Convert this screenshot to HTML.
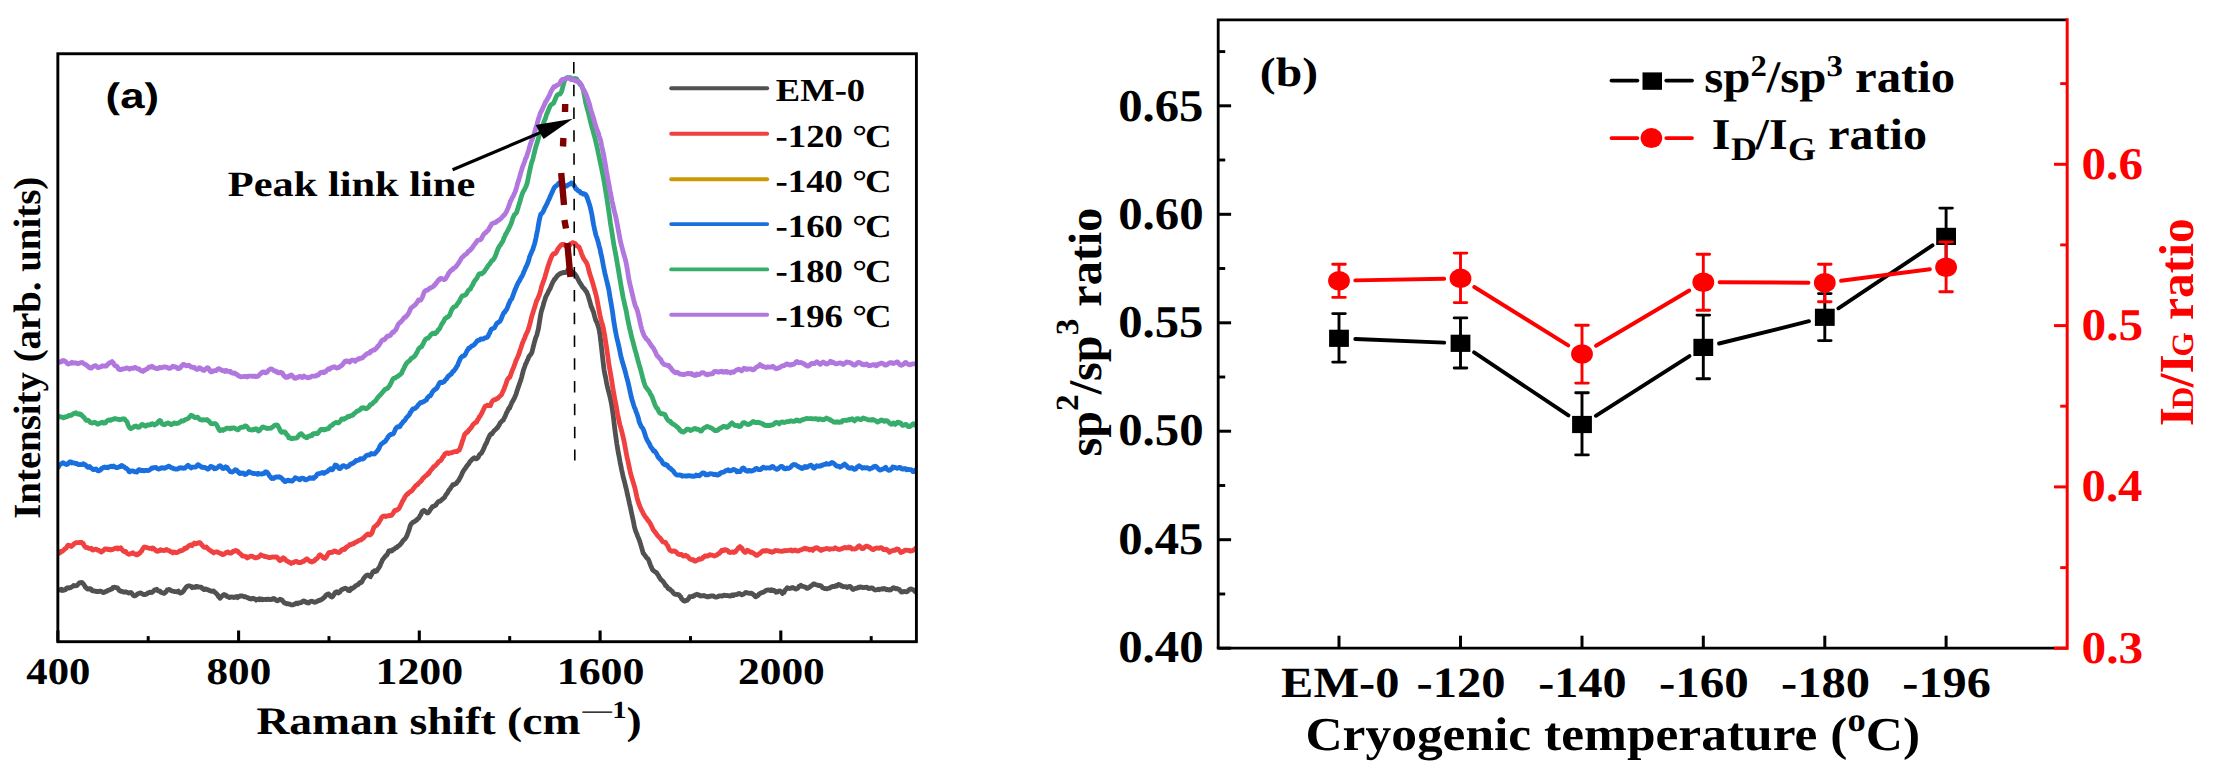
<!DOCTYPE html>
<html lang="en"><head><meta charset="utf-8"><title>Raman spectra and ratios</title>
<style>html,body{margin:0;padding:0;background:#fff}svg{display:block}text{white-space:pre;text-rendering:geometricPrecision}</style>
</head><body>
<svg width="2214" height="773" viewBox="0 0 2214 773">
<rect width="2214" height="773" fill="#fff"/>
<clipPath id="ca"><rect x="57.85" y="53.75" width="858.55" height="587.95"/></clipPath>
<g clip-path="url(#ca)" fill="none" stroke-width="4.8" stroke-linejoin="round" stroke-linecap="round">
<path d="M57.6,590.6 L58.4,589.9 L59.2,589.8 L60.0,589.6 L60.8,590.1 L61.6,589.4 L62.4,590.5 L63.2,589.9 L64.0,590.1 L64.8,589.6 L65.6,589.6 L66.4,588.1 L67.2,588.0 L68.0,587.7 L68.8,588.1 L69.6,587.6 L70.4,587.7 L71.2,587.2 L72.0,586.8 L72.8,586.3 L73.6,585.5 L74.4,585.9 L75.2,585.8 L76.0,585.7 L76.8,585.6 L77.6,584.7 L78.4,584.0 L79.2,583.0 L80.0,582.6 L80.8,582.6 L81.6,582.4 L82.4,582.9 L83.2,583.7 L84.0,584.8 L84.8,586.1 L85.6,587.4 L86.4,587.9 L87.2,588.7 L88.0,589.2 L88.8,588.9 L89.6,588.6 L90.4,588.6 L91.2,589.2 L92.0,590.6 L92.8,590.8 L93.6,590.8 L94.4,590.9 L95.2,591.3 L96.0,591.1 L96.8,591.5 L97.6,591.6 L98.4,591.5 L99.2,591.2 L100.0,591.2 L100.8,591.2 L101.6,591.5 L102.4,592.1 L103.2,592.5 L104.0,592.4 L104.8,592.2 L105.6,591.3 L106.4,591.4 L107.2,590.9 L108.0,590.4 L108.8,590.2 L109.6,589.7 L110.4,589.6 L111.2,589.2 L112.0,589.0 L112.8,587.6 L113.6,587.3 L114.4,587.2 L115.2,587.3 L116.0,587.6 L116.8,587.9 L117.6,587.9 L118.4,589.2 L119.2,590.4 L120.0,590.9 L120.8,591.3 L121.6,591.2 L122.4,591.5 L123.2,591.9 L124.0,592.1 L124.8,592.0 L125.6,591.9 L126.4,591.8 L127.2,592.4 L128.0,592.6 L128.8,593.0 L129.6,592.8 L130.4,592.5 L131.2,592.7 L132.0,593.5 L132.8,594.8 L133.6,595.6 L134.4,595.9 L135.2,595.8 L136.0,595.2 L136.8,594.8 L137.6,593.8 L138.4,593.7 L139.2,593.1 L140.0,593.1 L140.8,592.9 L141.6,593.5 L142.4,594.1 L143.2,594.1 L144.0,594.6 L144.8,594.7 L145.6,594.2 L146.4,594.2 L147.2,593.8 L148.0,592.8 L148.8,592.7 L149.6,592.2 L150.4,592.6 L151.2,592.1 L152.0,592.4 L152.8,591.7 L153.6,590.9 L154.4,590.0 L155.2,590.1 L156.0,590.1 L156.8,589.3 L157.6,590.4 L158.4,590.9 L159.2,591.0 L160.0,591.2 L160.8,592.3 L161.6,592.6 L162.4,592.9 L163.2,592.9 L164.0,593.4 L164.8,593.1 L165.6,592.1 L166.4,591.4 L167.2,590.0 L168.0,589.9 L168.8,589.5 L169.6,589.6 L170.4,590.1 L171.2,590.7 L172.0,591.0 L172.8,591.2 L173.6,591.3 L174.4,591.4 L175.2,591.7 L176.0,591.7 L176.8,591.8 L177.6,591.5 L178.4,591.1 L179.2,592.3 L180.0,593.1 L180.8,593.0 L181.6,592.7 L182.4,592.2 L183.2,591.3 L184.0,590.4 L184.8,589.0 L185.6,588.0 L186.4,586.9 L187.2,586.5 L188.0,585.9 L188.8,585.9 L189.6,585.8 L190.4,586.3 L191.2,586.6 L192.0,587.6 L192.8,586.9 L193.6,587.2 L194.4,587.4 L195.2,587.4 L196.0,586.4 L196.8,586.3 L197.6,586.5 L198.4,587.2 L199.2,587.0 L200.0,587.2 L200.8,587.1 L201.6,587.4 L202.4,588.6 L203.2,589.2 L204.0,589.6 L204.8,589.1 L205.6,588.9 L206.4,589.4 L207.2,589.6 L208.0,589.9 L208.8,590.1 L209.6,590.6 L210.4,590.6 L211.2,591.3 L212.0,591.2 L212.8,591.3 L213.6,591.0 L214.4,592.0 L215.2,592.4 L216.0,593.2 L216.8,594.1 L217.6,594.8 L218.4,596.5 L219.2,597.2 L220.0,598.3 L220.8,597.4 L221.6,596.6 L222.4,595.7 L223.2,595.0 L224.0,594.5 L224.8,595.3 L225.6,595.1 L226.4,595.4 L227.2,596.7 L228.0,596.8 L228.8,597.1 L229.6,597.6 L230.4,597.3 L231.2,596.8 L232.0,597.2 L232.8,597.0 L233.6,597.5 L234.4,597.2 L235.2,597.3 L236.0,596.8 L236.8,596.5 L237.6,597.6 L238.4,596.8 L239.2,596.6 L240.0,596.0 L240.8,595.9 L241.6,596.0 L242.4,596.0 L243.2,596.3 L244.0,596.8 L244.8,596.6 L245.6,596.7 L246.4,597.2 L247.2,597.6 L248.0,597.6 L248.8,598.5 L249.6,598.5 L250.4,598.9 L251.2,599.0 L252.0,598.4 L252.8,598.3 L253.6,598.6 L254.4,598.9 L255.2,599.1 L256.0,600.1 L256.8,599.5 L257.6,599.6 L258.4,599.5 L259.2,598.7 L260.0,599.8 L260.8,599.3 L261.6,599.0 L262.4,599.8 L263.2,599.5 L264.0,599.5 L264.8,599.3 L265.6,599.6 L266.4,599.2 L267.2,599.6 L268.0,599.1 L268.8,599.2 L269.6,599.5 L270.4,599.5 L271.2,599.7 L272.0,599.5 L272.8,598.7 L273.6,598.5 L274.4,598.7 L275.2,599.2 L276.0,600.3 L276.8,600.6 L277.6,600.8 L278.4,600.1 L279.2,600.0 L280.0,599.2 L280.8,599.7 L281.6,599.6 L282.4,600.4 L283.2,601.4 L284.0,602.5 L284.8,602.9 L285.6,603.4 L286.4,603.6 L287.2,603.9 L288.0,603.7 L288.8,604.1 L289.6,604.2 L290.4,604.4 L291.2,604.8 L292.0,604.8 L292.8,604.9 L293.6,604.6 L294.4,604.3 L295.2,603.9 L296.0,603.1 L296.8,603.4 L297.6,603.7 L298.4,602.8 L299.2,603.0 L300.0,602.8 L300.8,602.6 L301.6,602.5 L302.4,601.5 L303.2,601.0 L304.0,601.3 L304.8,601.2 L305.6,602.1 L306.4,602.3 L307.2,602.9 L308.0,602.3 L308.8,602.9 L309.6,602.0 L310.4,601.6 L311.2,601.3 L312.0,601.2 L312.8,601.5 L313.6,602.1 L314.4,602.1 L315.2,602.3 L316.0,601.7 L316.8,601.6 L317.6,601.3 L318.4,600.5 L319.2,600.7 L320.0,600.0 L320.8,600.0 L321.6,599.4 L322.4,599.2 L323.2,598.1 L324.0,597.6 L324.8,597.0 L325.6,595.7 L326.4,594.8 L327.2,594.5 L328.0,594.0 L328.8,594.0 L329.6,594.9 L330.4,596.3 L331.2,596.7 L332.0,597.1 L332.8,596.3 L333.6,595.1 L334.4,593.7 L335.2,592.5 L336.0,592.1 L336.8,591.8 L337.6,592.7 L338.4,593.0 L339.2,592.4 L340.0,591.8 L340.8,590.4 L341.6,589.7 L342.4,589.5 L343.2,589.1 L344.0,588.7 L344.8,588.3 L345.6,588.2 L346.4,588.8 L347.2,588.8 L348.0,590.2 L348.8,590.5 L349.6,590.6 L350.4,589.9 L351.2,588.3 L352.0,588.6 L352.8,588.1 L353.6,587.7 L354.4,586.9 L355.2,586.4 L356.0,585.3 L356.8,585.4 L357.6,584.6 L358.4,584.5 L359.2,583.2 L360.0,582.4 L360.8,582.6 L361.6,582.1 L362.4,580.9 L363.2,579.1 L364.0,578.0 L364.8,577.1 L365.6,576.1 L366.4,575.5 L367.2,575.1 L368.0,575.0 L368.8,575.8 L369.6,576.1 L370.4,576.8 L371.2,575.2 L372.0,573.8 L372.8,572.0 L373.6,571.6 L374.4,570.8 L375.2,571.6 L376.0,571.1 L376.8,571.1 L377.6,569.3 L378.4,568.6 L379.2,567.3 L380.0,565.9 L380.8,563.7 L381.6,562.2 L382.4,560.1 L383.2,559.1 L384.0,558.1 L384.8,557.0 L385.6,555.8 L386.4,555.5 L387.2,554.5 L388.0,552.8 L388.8,551.0 L389.6,550.6 L390.4,550.7 L391.2,551.2 L392.0,550.8 L392.8,549.6 L393.6,549.4 L394.4,549.2 L395.2,548.1 L396.0,547.5 L396.8,547.7 L397.6,546.6 L398.4,545.9 L399.2,545.6 L400.0,544.8 L400.8,543.7 L401.6,542.9 L402.4,541.6 L403.2,540.5 L404.0,539.6 L404.8,539.2 L405.6,538.0 L406.4,536.7 L407.2,535.0 L408.0,532.8 L408.8,530.7 L409.6,528.0 L410.4,525.3 L411.2,523.8 L412.0,523.3 L412.8,522.3 L413.6,522.1 L414.4,521.4 L415.2,521.3 L416.0,520.3 L416.8,520.1 L417.6,518.8 L418.4,518.4 L419.2,517.4 L420.0,515.8 L420.8,514.8 L421.6,512.7 L422.4,511.2 L423.2,510.7 L424.0,510.3 L424.8,510.9 L425.6,511.8 L426.4,512.2 L427.2,513.0 L428.0,512.8 L428.8,512.0 L429.6,510.8 L430.4,509.5 L431.2,508.5 L432.0,507.3 L432.8,506.3 L433.6,506.3 L434.4,505.9 L435.2,505.4 L436.0,505.0 L436.8,503.4 L437.6,502.4 L438.4,501.5 L439.2,501.3 L440.0,501.4 L440.8,500.5 L441.6,500.1 L442.4,499.1 L443.2,498.5 L444.0,497.9 L444.8,496.9 L445.6,495.3 L446.4,494.2 L447.2,493.2 L448.0,491.9 L448.8,490.3 L449.6,489.4 L450.4,488.4 L451.2,487.0 L452.0,486.1 L452.8,484.7 L453.6,484.3 L454.4,484.6 L455.2,483.8 L456.0,483.6 L456.8,482.9 L457.6,481.4 L458.4,480.8 L459.2,479.3 L460.0,478.0 L460.8,476.4 L461.6,474.7 L462.4,472.8 L463.2,471.5 L464.0,469.9 L464.8,468.9 L465.6,467.9 L466.4,466.6 L467.2,465.7 L468.0,464.4 L468.8,463.8 L469.6,462.2 L470.4,461.1 L471.2,460.5 L472.0,459.5 L472.8,458.8 L473.6,458.3 L474.4,457.7 L475.2,458.2 L476.0,458.9 L476.8,458.7 L477.6,458.0 L478.4,457.0 L479.2,455.1 L480.0,454.3 L480.8,453.6 L481.6,452.9 L482.4,451.3 L483.2,449.8 L484.0,448.1 L484.8,446.0 L485.6,444.3 L486.4,443.1 L487.2,441.1 L488.0,438.9 L488.8,437.5 L489.6,435.6 L490.4,434.5 L491.2,433.7 L492.0,434.0 L492.8,432.4 L493.6,431.4 L494.4,430.5 L495.2,429.8 L496.0,429.2 L496.8,428.1 L497.6,427.6 L498.4,426.0 L499.2,425.1 L500.0,423.1 L500.8,422.2 L501.6,421.6 L502.4,420.6 L503.2,420.2 L504.0,418.4 L504.8,417.0 L505.6,415.2 L506.4,413.1 L507.2,411.8 L508.0,410.1 L508.8,408.2 L509.6,408.3 L510.4,406.0 L511.2,404.2 L512.0,402.2 L512.8,401.1 L513.6,399.5 L514.4,398.1 L515.2,396.1 L516.0,394.4 L516.8,391.6 L517.6,389.2 L518.4,386.9 L519.2,384.6 L520.0,382.3 L520.8,380.1 L521.6,377.3 L522.4,374.1 L523.2,371.1 L524.0,368.6 L524.8,366.5 L525.6,364.0 L526.4,362.7 L527.2,360.5 L528.0,359.1 L528.8,356.8 L529.6,355.8 L530.4,354.8 L531.2,353.8 L532.0,352.0 L532.8,348.7 L533.6,345.7 L534.4,342.3 L535.2,339.5 L536.0,336.9 L536.8,335.2 L537.6,332.0 L538.4,328.8 L539.2,323.7 L540.0,318.6 L540.8,313.8 L541.6,310.5 L542.4,308.1 L543.2,305.4 L544.0,302.2 L544.8,300.0 L545.6,297.3 L546.4,295.6 L547.2,294.2 L548.0,292.6 L548.8,290.8 L549.6,289.4 L550.4,288.1 L551.2,285.7 L552.0,284.2 L552.8,282.2 L553.6,281.0 L554.4,279.2 L555.2,278.9 L556.0,277.5 L556.8,276.6 L557.6,275.5 L558.4,274.9 L559.2,274.2 L560.0,274.0 L560.8,273.2 L561.6,273.0 L562.4,273.1 L563.2,272.5 L564.0,272.4 L564.8,272.5 L565.6,272.6 L566.4,271.7 L567.2,271.0 L568.0,269.6 L568.8,269.3 L569.6,269.9 L570.4,270.6 L571.2,270.8 L572.0,271.9 L572.8,272.1 L573.6,273.4 L574.4,273.5 L575.2,274.5 L576.0,275.6 L576.8,276.9 L577.6,278.6 L578.4,280.0 L579.2,281.6 L580.0,283.0 L580.8,284.1 L581.6,285.4 L582.4,286.9 L583.2,287.7 L584.0,288.6 L584.8,289.3 L585.6,290.8 L586.4,291.5 L587.2,293.5 L588.0,295.3 L588.8,298.1 L589.6,300.7 L590.4,303.6 L591.2,306.5 L592.0,308.0 L592.8,310.5 L593.6,312.3 L594.4,315.6 L595.2,318.4 L596.0,320.9 L596.8,322.3 L597.6,324.4 L598.4,326.9 L599.2,330.0 L600.0,335.0 L600.8,341.4 L601.6,348.6 L602.4,355.8 L603.2,362.7 L604.0,369.3 L604.8,373.9 L605.6,377.4 L606.4,381.9 L607.2,385.7 L608.0,389.1 L608.8,392.2 L609.6,395.2 L610.4,398.7 L611.2,402.4 L612.0,407.2 L612.8,412.6 L613.6,418.8 L614.4,425.6 L615.2,432.1 L616.0,437.8 L616.8,443.6 L617.6,448.5 L618.4,453.3 L619.2,457.1 L620.0,461.7 L620.8,465.5 L621.6,469.7 L622.4,473.1 L623.2,477.1 L624.0,479.9 L624.8,482.9 L625.6,486.5 L626.4,489.4 L627.2,493.4 L628.0,496.8 L628.8,500.3 L629.6,504.1 L630.4,507.2 L631.2,511.2 L632.0,514.9 L632.8,518.7 L633.6,522.3 L634.4,526.9 L635.2,529.6 L636.0,532.1 L636.8,533.8 L637.6,536.1 L638.4,537.9 L639.2,539.9 L640.0,542.1 L640.8,544.9 L641.6,547.7 L642.4,550.3 L643.2,553.2 L644.0,553.9 L644.8,555.2 L645.6,556.2 L646.4,557.5 L647.2,558.3 L648.0,558.8 L648.8,560.5 L649.6,562.6 L650.4,565.0 L651.2,566.6 L652.0,568.7 L652.8,570.1 L653.6,570.6 L654.4,571.4 L655.2,571.8 L656.0,572.5 L656.8,572.9 L657.6,574.5 L658.4,575.4 L659.2,577.2 L660.0,578.1 L660.8,579.5 L661.6,580.1 L662.4,580.8 L663.2,581.7 L664.0,582.9 L664.8,584.0 L665.6,585.6 L666.4,586.0 L667.2,586.9 L668.0,588.4 L668.8,588.9 L669.6,588.8 L670.4,590.0 L671.2,590.6 L672.0,590.9 L672.8,592.3 L673.6,593.3 L674.4,594.0 L675.2,594.3 L676.0,594.2 L676.8,594.5 L677.6,594.5 L678.4,594.6 L679.2,595.1 L680.0,596.3 L680.8,596.8 L681.6,598.8 L682.4,599.6 L683.2,600.5 L684.0,601.0 L684.8,601.2 L685.6,600.4 L686.4,600.6 L687.2,600.3 L688.0,599.3 L688.8,598.4 L689.6,596.7 L690.4,596.7 L691.2,596.6 L692.0,596.5 L692.8,596.6 L693.6,595.7 L694.4,595.8 L695.2,594.8 L696.0,594.7 L696.8,594.2 L697.6,594.7 L698.4,595.1 L699.2,595.0 L700.0,595.8 L700.8,596.0 L701.6,595.9 L702.4,595.6 L703.2,595.9 L704.0,595.4 L704.8,596.0 L705.6,596.1 L706.4,596.5 L707.2,596.9 L708.0,596.4 L708.8,596.8 L709.6,596.1 L710.4,596.3 L711.2,596.0 L712.0,595.9 L712.8,595.9 L713.6,596.1 L714.4,596.6 L715.2,596.9 L716.0,597.2 L716.8,597.1 L717.6,596.8 L718.4,596.4 L719.2,595.9 L720.0,595.8 L720.8,595.9 L721.6,596.1 L722.4,596.0 L723.2,595.5 L724.0,595.2 L724.8,595.2 L725.6,595.7 L726.4,595.4 L727.2,595.6 L728.0,595.6 L728.8,595.7 L729.6,596.1 L730.4,596.0 L731.2,595.8 L732.0,594.9 L732.8,595.1 L733.6,595.5 L734.4,594.7 L735.2,594.6 L736.0,594.6 L736.8,594.5 L737.6,594.1 L738.4,593.6 L739.2,593.5 L740.0,593.9 L740.8,594.1 L741.6,594.9 L742.4,594.7 L743.2,594.3 L744.0,593.9 L744.8,593.1 L745.6,592.5 L746.4,592.6 L747.2,592.8 L748.0,592.8 L748.8,593.3 L749.6,593.4 L750.4,593.3 L751.2,593.1 L752.0,593.6 L752.8,594.1 L753.6,595.1 L754.4,595.2 L755.2,596.6 L756.0,596.8 L756.8,596.3 L757.6,595.8 L758.4,595.0 L759.2,593.9 L760.0,593.5 L760.8,593.1 L761.6,592.7 L762.4,592.6 L763.2,592.2 L764.0,592.0 L764.8,591.3 L765.6,590.8 L766.4,590.1 L767.2,590.2 L768.0,589.8 L768.8,589.8 L769.6,590.4 L770.4,590.5 L771.2,589.7 L772.0,590.5 L772.8,589.9 L773.6,590.5 L774.4,590.5 L775.2,591.0 L776.0,592.3 L776.8,592.0 L777.6,591.9 L778.4,591.2 L779.2,590.8 L780.0,590.9 L780.8,591.5 L781.6,592.2 L782.4,593.4 L783.2,592.7 L784.0,592.5 L784.8,590.6 L785.6,589.7 L786.4,588.8 L787.2,587.8 L788.0,588.1 L788.8,588.3 L789.6,588.5 L790.4,588.2 L791.2,588.1 L792.0,587.7 L792.8,587.5 L793.6,588.2 L794.4,588.1 L795.2,588.9 L796.0,589.0 L796.8,588.6 L797.6,588.3 L798.4,587.4 L799.2,586.2 L800.0,585.8 L800.8,585.3 L801.6,586.1 L802.4,586.3 L803.2,586.3 L804.0,586.8 L804.8,587.1 L805.6,587.2 L806.4,588.1 L807.2,588.3 L808.0,588.1 L808.8,587.4 L809.6,587.3 L810.4,586.3 L811.2,585.8 L812.0,585.4 L812.8,584.5 L813.6,583.8 L814.4,583.9 L815.2,584.3 L816.0,584.9 L816.8,584.8 L817.6,585.3 L818.4,585.5 L819.2,585.4 L820.0,585.7 L820.8,585.7 L821.6,586.5 L822.4,587.6 L823.2,588.0 L824.0,588.3 L824.8,588.7 L825.6,588.5 L826.4,588.8 L827.2,588.8 L828.0,588.5 L828.8,588.2 L829.6,588.1 L830.4,587.6 L831.2,587.0 L832.0,586.9 L832.8,586.4 L833.6,586.5 L834.4,586.5 L835.2,586.1 L836.0,585.5 L836.8,586.1 L837.6,585.5 L838.4,584.4 L839.2,584.6 L840.0,584.9 L840.8,585.2 L841.6,586.1 L842.4,586.3 L843.2,586.8 L844.0,586.7 L844.8,586.6 L845.6,586.7 L846.4,587.1 L847.2,587.5 L848.0,587.0 L848.8,586.5 L849.6,586.3 L850.4,586.5 L851.2,587.5 L852.0,588.6 L852.8,589.5 L853.6,589.4 L854.4,588.6 L855.2,588.6 L856.0,588.4 L856.8,588.0 L857.6,588.0 L858.4,587.2 L859.2,587.6 L860.0,587.1 L860.8,586.8 L861.6,587.2 L862.4,587.4 L863.2,587.7 L864.0,587.4 L864.8,587.5 L865.6,587.3 L866.4,587.2 L867.2,587.4 L868.0,588.2 L868.8,588.5 L869.6,588.1 L870.4,588.4 L871.2,587.8 L872.0,587.8 L872.8,588.3 L873.6,589.1 L874.4,589.7 L875.2,590.0 L876.0,589.8 L876.8,589.7 L877.6,589.5 L878.4,589.1 L879.2,589.7 L880.0,589.2 L880.8,589.1 L881.6,589.1 L882.4,588.7 L883.2,589.0 L884.0,588.4 L884.8,588.9 L885.6,588.8 L886.4,589.7 L887.2,589.3 L888.0,589.7 L888.8,590.0 L889.6,589.5 L890.4,590.0 L891.2,589.5 L892.0,588.9 L892.8,588.0 L893.6,587.7 L894.4,588.1 L895.2,588.4 L896.0,588.8 L896.8,588.4 L897.6,588.7 L898.4,589.2 L899.2,589.3 L900.0,590.4 L900.8,591.5 L901.6,592.1 L902.4,591.7 L903.2,591.9 L904.0,591.5 L904.8,591.5 L905.6,591.7 L906.4,591.9 L907.2,591.5 L908.0,590.9 L908.8,589.9 L909.6,589.3 L910.4,589.0 L911.2,588.8 L912.0,589.5 L912.8,589.7 L913.6,589.8 L914.4,591.0 L915.2,591.6 L916.0,592.1 L916.8,591.9" stroke="#515151"/>
<path d="M57.6,554.1 L58.4,553.7 L59.2,552.5 L60.0,552.8 L60.8,551.4 L61.6,551.3 L62.4,551.3 L63.2,550.4 L64.0,549.8 L64.8,549.0 L65.6,548.4 L66.4,547.8 L67.2,546.2 L68.0,545.2 L68.8,545.4 L69.6,545.4 L70.4,546.0 L71.2,546.5 L72.0,545.7 L72.8,545.2 L73.6,544.2 L74.4,543.6 L75.2,543.3 L76.0,542.6 L76.8,542.6 L77.6,542.6 L78.4,542.7 L79.2,542.6 L80.0,542.4 L80.8,542.4 L81.6,542.5 L82.4,543.6 L83.2,543.5 L84.0,545.4 L84.8,546.5 L85.6,547.4 L86.4,547.5 L87.2,547.4 L88.0,548.0 L88.8,548.4 L89.6,548.3 L90.4,548.7 L91.2,548.3 L92.0,549.7 L92.8,550.1 L93.6,549.6 L94.4,549.6 L95.2,549.3 L96.0,549.1 L96.8,549.6 L97.6,550.1 L98.4,550.1 L99.2,550.6 L100.0,551.3 L100.8,551.9 L101.6,552.1 L102.4,551.1 L103.2,550.8 L104.0,550.0 L104.8,549.0 L105.6,549.0 L106.4,549.0 L107.2,549.1 L108.0,549.5 L108.8,549.1 L109.6,549.9 L110.4,549.8 L111.2,549.5 L112.0,549.8 L112.8,549.5 L113.6,548.8 L114.4,548.8 L115.2,548.2 L116.0,548.1 L116.8,548.0 L117.6,548.9 L118.4,548.0 L119.2,548.5 L120.0,548.5 L120.8,547.9 L121.6,549.0 L122.4,549.9 L123.2,550.9 L124.0,551.5 L124.8,551.3 L125.6,551.4 L126.4,552.6 L127.2,553.4 L128.0,553.8 L128.8,554.3 L129.6,554.2 L130.4,553.8 L131.2,553.3 L132.0,553.4 L132.8,552.7 L133.6,553.7 L134.4,553.9 L135.2,554.1 L136.0,554.7 L136.8,554.0 L137.6,554.8 L138.4,554.3 L139.2,553.4 L140.0,552.9 L140.8,551.6 L141.6,551.0 L142.4,549.6 L143.2,548.2 L144.0,547.2 L144.8,547.0 L145.6,547.2 L146.4,547.5 L147.2,547.7 L148.0,548.0 L148.8,548.2 L149.6,548.3 L150.4,548.3 L151.2,548.2 L152.0,548.9 L152.8,547.9 L153.6,548.3 L154.4,549.2 L155.2,549.7 L156.0,550.7 L156.8,551.2 L157.6,551.4 L158.4,551.0 L159.2,550.2 L160.0,550.5 L160.8,549.7 L161.6,550.3 L162.4,550.4 L163.2,550.3 L164.0,550.6 L164.8,550.1 L165.6,550.2 L166.4,549.4 L167.2,550.1 L168.0,550.3 L168.8,550.6 L169.6,550.8 L170.4,551.8 L171.2,551.9 L172.0,551.8 L172.8,552.9 L173.6,552.1 L174.4,552.4 L175.2,552.2 L176.0,552.7 L176.8,552.7 L177.6,552.3 L178.4,551.8 L179.2,551.5 L180.0,550.6 L180.8,550.9 L181.6,550.6 L182.4,550.4 L183.2,549.6 L184.0,549.4 L184.8,548.2 L185.6,547.8 L186.4,548.2 L187.2,547.4 L188.0,546.4 L188.8,545.8 L189.6,545.3 L190.4,544.9 L191.2,544.9 L192.0,545.6 L192.8,544.3 L193.6,544.1 L194.4,543.1 L195.2,543.8 L196.0,543.9 L196.8,543.5 L197.6,543.0 L198.4,543.1 L199.2,542.7 L200.0,542.7 L200.8,543.6 L201.6,544.7 L202.4,545.6 L203.2,546.4 L204.0,547.1 L204.8,547.3 L205.6,547.2 L206.4,547.0 L207.2,547.9 L208.0,548.8 L208.8,549.5 L209.6,550.0 L210.4,550.6 L211.2,550.9 L212.0,551.8 L212.8,552.1 L213.6,552.9 L214.4,552.3 L215.2,552.1 L216.0,552.1 L216.8,551.9 L217.6,552.0 L218.4,552.5 L219.2,552.8 L220.0,553.4 L220.8,553.6 L221.6,553.7 L222.4,554.6 L223.2,554.7 L224.0,554.1 L224.8,553.9 L225.6,552.8 L226.4,552.6 L227.2,552.1 L228.0,551.9 L228.8,552.5 L229.6,553.2 L230.4,553.0 L231.2,553.0 L232.0,552.6 L232.8,551.6 L233.6,551.1 L234.4,551.3 L235.2,550.6 L236.0,550.5 L236.8,551.1 L237.6,551.2 L238.4,552.4 L239.2,552.8 L240.0,553.6 L240.8,554.2 L241.6,554.9 L242.4,555.9 L243.2,556.2 L244.0,556.2 L244.8,556.2 L245.6,556.7 L246.4,556.7 L247.2,558.0 L248.0,557.1 L248.8,557.3 L249.6,556.7 L250.4,556.1 L251.2,556.2 L252.0,556.1 L252.8,556.5 L253.6,557.2 L254.4,557.4 L255.2,557.8 L256.0,557.9 L256.8,557.5 L257.6,557.3 L258.4,557.1 L259.2,556.4 L260.0,555.8 L260.8,554.8 L261.6,555.3 L262.4,555.6 L263.2,555.8 L264.0,556.1 L264.8,556.7 L265.6,556.4 L266.4,556.8 L267.2,556.8 L268.0,557.2 L268.8,557.6 L269.6,557.5 L270.4,557.6 L271.2,557.2 L272.0,557.2 L272.8,556.9 L273.6,557.0 L274.4,557.2 L275.2,556.9 L276.0,556.9 L276.8,557.0 L277.6,557.7 L278.4,559.1 L279.2,560.2 L280.0,560.6 L280.8,560.2 L281.6,560.0 L282.4,558.4 L283.2,557.7 L284.0,558.3 L284.8,558.8 L285.6,559.8 L286.4,560.9 L287.2,561.1 L288.0,561.4 L288.8,562.1 L289.6,562.4 L290.4,562.4 L291.2,563.4 L292.0,562.8 L292.8,562.7 L293.6,562.6 L294.4,561.8 L295.2,561.6 L296.0,561.5 L296.8,561.5 L297.6,562.2 L298.4,562.5 L299.2,562.4 L300.0,562.5 L300.8,562.5 L301.6,562.1 L302.4,561.5 L303.2,561.5 L304.0,561.2 L304.8,560.2 L305.6,559.9 L306.4,558.8 L307.2,558.8 L308.0,559.9 L308.8,560.3 L309.6,561.0 L310.4,561.6 L311.2,561.7 L312.0,562.0 L312.8,561.3 L313.6,561.0 L314.4,561.1 L315.2,559.8 L316.0,558.8 L316.8,558.8 L317.6,557.8 L318.4,556.8 L319.2,555.4 L320.0,554.7 L320.8,555.5 L321.6,556.1 L322.4,556.4 L323.2,557.8 L324.0,558.0 L324.8,558.5 L325.6,557.7 L326.4,557.0 L327.2,555.4 L328.0,554.0 L328.8,552.8 L329.6,552.3 L330.4,552.4 L331.2,552.6 L332.0,552.4 L332.8,552.2 L333.6,551.3 L334.4,550.8 L335.2,551.2 L336.0,551.3 L336.8,552.1 L337.6,552.2 L338.4,552.4 L339.2,552.5 L340.0,551.7 L340.8,551.3 L341.6,549.9 L342.4,549.3 L343.2,549.5 L344.0,548.8 L344.8,549.4 L345.6,548.3 L346.4,547.1 L347.2,546.8 L348.0,546.2 L348.8,545.7 L349.6,544.7 L350.4,544.5 L351.2,544.5 L352.0,544.1 L352.8,543.8 L353.6,543.8 L354.4,542.9 L355.2,542.7 L356.0,542.0 L356.8,541.9 L357.6,541.3 L358.4,540.7 L359.2,540.3 L360.0,540.2 L360.8,540.2 L361.6,539.3 L362.4,538.6 L363.2,538.4 L364.0,537.6 L364.8,536.4 L365.6,535.8 L366.4,535.3 L367.2,534.3 L368.0,533.9 L368.8,534.4 L369.6,535.0 L370.4,534.7 L371.2,534.0 L372.0,532.7 L372.8,530.4 L373.6,528.2 L374.4,526.7 L375.2,526.2 L376.0,525.6 L376.8,525.3 L377.6,523.9 L378.4,523.4 L379.2,521.8 L380.0,520.3 L380.8,519.3 L381.6,517.4 L382.4,516.7 L383.2,516.1 L384.0,516.2 L384.8,515.9 L385.6,516.5 L386.4,516.1 L387.2,516.2 L388.0,515.6 L388.8,515.8 L389.6,515.4 L390.4,515.7 L391.2,515.5 L392.0,514.7 L392.8,513.7 L393.6,512.5 L394.4,510.9 L395.2,510.1 L396.0,510.2 L396.8,510.3 L397.6,509.5 L398.4,509.1 L399.2,508.3 L400.0,506.6 L400.8,504.9 L401.6,503.3 L402.4,501.5 L403.2,500.1 L404.0,498.9 L404.8,497.3 L405.6,495.9 L406.4,494.9 L407.2,494.0 L408.0,493.9 L408.8,492.7 L409.6,492.2 L410.4,491.8 L411.2,491.0 L412.0,490.7 L412.8,489.6 L413.6,488.3 L414.4,487.6 L415.2,486.2 L416.0,485.5 L416.8,484.9 L417.6,484.8 L418.4,483.4 L419.2,482.7 L420.0,482.1 L420.8,481.3 L421.6,480.4 L422.4,479.1 L423.2,478.1 L424.0,477.4 L424.8,476.5 L425.6,476.0 L426.4,475.2 L427.2,474.9 L428.0,473.5 L428.8,473.5 L429.6,472.0 L430.4,470.9 L431.2,469.7 L432.0,469.0 L432.8,468.0 L433.6,466.7 L434.4,466.5 L435.2,465.8 L436.0,465.0 L436.8,464.1 L437.6,463.3 L438.4,461.9 L439.2,461.2 L440.0,461.2 L440.8,460.3 L441.6,459.4 L442.4,457.7 L443.2,456.6 L444.0,455.9 L444.8,453.9 L445.6,453.6 L446.4,453.0 L447.2,453.1 L448.0,452.9 L448.8,453.6 L449.6,452.8 L450.4,452.8 L451.2,452.7 L452.0,452.8 L452.8,452.2 L453.6,452.0 L454.4,451.6 L455.2,451.6 L456.0,451.5 L456.8,451.6 L457.6,451.1 L458.4,450.3 L459.2,450.2 L460.0,448.4 L460.8,446.1 L461.6,443.9 L462.4,441.0 L463.2,439.2 L464.0,436.3 L464.8,434.2 L465.6,433.6 L466.4,432.5 L467.2,432.4 L468.0,431.4 L468.8,430.1 L469.6,429.6 L470.4,428.6 L471.2,427.6 L472.0,426.4 L472.8,424.8 L473.6,424.3 L474.4,423.3 L475.2,422.7 L476.0,422.5 L476.8,421.7 L477.6,419.8 L478.4,419.0 L479.2,416.8 L480.0,416.4 L480.8,414.8 L481.6,413.5 L482.4,411.7 L483.2,410.1 L484.0,408.4 L484.8,406.8 L485.6,405.9 L486.4,405.9 L487.2,405.1 L488.0,405.6 L488.8,405.7 L489.6,405.5 L490.4,405.6 L491.2,403.4 L492.0,401.8 L492.8,400.7 L493.6,400.1 L494.4,399.6 L495.2,399.8 L496.0,399.2 L496.8,398.5 L497.6,398.5 L498.4,397.8 L499.2,396.8 L500.0,396.2 L500.8,395.3 L501.6,394.7 L502.4,392.7 L503.2,390.8 L504.0,389.4 L504.8,386.8 L505.6,385.1 L506.4,382.6 L507.2,380.1 L508.0,378.7 L508.8,377.8 L509.6,377.5 L510.4,375.7 L511.2,373.3 L512.0,371.1 L512.8,369.3 L513.6,367.4 L514.4,365.1 L515.2,363.1 L516.0,360.6 L516.8,358.9 L517.6,357.1 L518.4,355.2 L519.2,353.2 L520.0,350.5 L520.8,348.3 L521.6,345.7 L522.4,343.3 L523.2,341.4 L524.0,339.3 L524.8,338.0 L525.6,335.3 L526.4,333.8 L527.2,332.1 L528.0,330.1 L528.8,327.9 L529.6,324.9 L530.4,321.8 L531.2,318.5 L532.0,315.7 L532.8,313.1 L533.6,310.5 L534.4,308.1 L535.2,305.6 L536.0,302.9 L536.8,300.3 L537.6,299.0 L538.4,297.1 L539.2,295.2 L540.0,292.6 L540.8,289.8 L541.6,286.4 L542.4,284.2 L543.2,281.9 L544.0,279.8 L544.8,277.4 L545.6,274.6 L546.4,271.9 L547.2,268.9 L548.0,266.4 L548.8,264.1 L549.6,261.7 L550.4,259.6 L551.2,257.6 L552.0,255.7 L552.8,254.5 L553.6,253.6 L554.4,253.8 L555.2,253.6 L556.0,252.5 L556.8,251.3 L557.6,249.5 L558.4,248.2 L559.2,247.3 L560.0,246.2 L560.8,245.2 L561.6,244.6 L562.4,244.4 L563.2,244.6 L564.0,244.4 L564.8,245.3 L565.6,245.9 L566.4,246.3 L567.2,246.2 L568.0,246.9 L568.8,245.9 L569.6,245.4 L570.4,243.8 L571.2,243.5 L572.0,243.1 L572.8,242.6 L573.6,242.9 L574.4,243.5 L575.2,243.4 L576.0,244.4 L576.8,246.0 L577.6,246.2 L578.4,246.5 L579.2,247.3 L580.0,249.4 L580.8,251.3 L581.6,254.0 L582.4,255.7 L583.2,257.8 L584.0,259.2 L584.8,260.2 L585.6,261.4 L586.4,262.6 L587.2,264.2 L588.0,267.0 L588.8,270.1 L589.6,273.3 L590.4,275.7 L591.2,278.0 L592.0,280.7 L592.8,283.3 L593.6,286.1 L594.4,289.0 L595.2,291.9 L596.0,294.8 L596.8,298.3 L597.6,302.7 L598.4,307.0 L599.2,311.3 L600.0,315.5 L600.8,318.9 L601.6,321.9 L602.4,324.3 L603.2,327.3 L604.0,331.8 L604.8,336.0 L605.6,341.6 L606.4,346.5 L607.2,352.2 L608.0,357.5 L608.8,363.8 L609.6,368.2 L610.4,372.9 L611.2,377.5 L612.0,382.4 L612.8,387.6 L613.6,392.4 L614.4,396.9 L615.2,401.4 L616.0,404.9 L616.8,409.7 L617.6,414.2 L618.4,417.7 L619.2,422.1 L620.0,425.1 L620.8,427.8 L621.6,430.8 L622.4,434.0 L623.2,437.4 L624.0,441.0 L624.8,445.1 L625.6,449.6 L626.4,453.9 L627.2,458.0 L628.0,461.3 L628.8,465.4 L629.6,468.9 L630.4,472.9 L631.2,475.7 L632.0,478.4 L632.8,480.9 L633.6,483.6 L634.4,486.3 L635.2,489.2 L636.0,493.0 L636.8,496.6 L637.6,499.8 L638.4,502.4 L639.2,504.6 L640.0,506.7 L640.8,508.5 L641.6,510.2 L642.4,511.6 L643.2,513.5 L644.0,514.6 L644.8,516.3 L645.6,517.2 L646.4,518.0 L647.2,519.4 L648.0,520.5 L648.8,521.1 L649.6,522.6 L650.4,523.7 L651.2,525.6 L652.0,526.9 L652.8,528.8 L653.6,530.3 L654.4,531.1 L655.2,532.3 L656.0,533.3 L656.8,534.6 L657.6,535.5 L658.4,536.5 L659.2,537.2 L660.0,537.9 L660.8,538.9 L661.6,540.2 L662.4,541.3 L663.2,542.2 L664.0,542.1 L664.8,542.1 L665.6,542.4 L666.4,544.1 L667.2,545.2 L668.0,546.4 L668.8,548.5 L669.6,549.8 L670.4,550.7 L671.2,550.7 L672.0,551.4 L672.8,551.1 L673.6,551.0 L674.4,550.9 L675.2,551.2 L676.0,552.0 L676.8,552.5 L677.6,553.7 L678.4,554.2 L679.2,554.4 L680.0,554.6 L680.8,554.5 L681.6,554.4 L682.4,555.2 L683.2,556.1 L684.0,556.0 L684.8,555.8 L685.6,555.2 L686.4,556.0 L687.2,556.0 L688.0,557.0 L688.8,557.8 L689.6,558.8 L690.4,559.3 L691.2,559.3 L692.0,559.8 L692.8,559.5 L693.6,560.0 L694.4,561.1 L695.2,561.1 L696.0,560.9 L696.8,560.2 L697.6,559.9 L698.4,559.3 L699.2,558.8 L700.0,559.4 L700.8,559.1 L701.6,558.7 L702.4,558.4 L703.2,557.1 L704.0,557.2 L704.8,556.0 L705.6,556.0 L706.4,555.9 L707.2,556.0 L708.0,556.0 L708.8,555.4 L709.6,554.9 L710.4,554.7 L711.2,555.2 L712.0,555.2 L712.8,555.3 L713.6,555.8 L714.4,556.1 L715.2,555.7 L716.0,555.3 L716.8,555.2 L717.6,554.3 L718.4,553.6 L719.2,553.6 L720.0,552.4 L720.8,552.0 L721.6,550.4 L722.4,550.5 L723.2,549.9 L724.0,550.5 L724.8,549.7 L725.6,549.6 L726.4,550.0 L727.2,550.4 L728.0,550.9 L728.8,552.0 L729.6,552.4 L730.4,552.5 L731.2,552.2 L732.0,551.9 L732.8,552.0 L733.6,552.5 L734.4,552.0 L735.2,552.1 L736.0,551.0 L736.8,549.8 L737.6,549.2 L738.4,547.8 L739.2,547.2 L740.0,546.6 L740.8,547.4 L741.6,548.0 L742.4,549.1 L743.2,550.7 L744.0,551.6 L744.8,552.4 L745.6,552.3 L746.4,551.2 L747.2,550.3 L748.0,550.6 L748.8,551.0 L749.6,551.5 L750.4,552.3 L751.2,552.4 L752.0,552.2 L752.8,552.9 L753.6,553.2 L754.4,553.8 L755.2,554.6 L756.0,555.3 L756.8,555.4 L757.6,555.1 L758.4,554.3 L759.2,553.7 L760.0,553.4 L760.8,552.4 L761.6,551.8 L762.4,551.1 L763.2,550.9 L764.0,550.7 L764.8,551.1 L765.6,551.0 L766.4,550.4 L767.2,550.7 L768.0,551.0 L768.8,551.0 L769.6,551.5 L770.4,551.9 L771.2,551.6 L772.0,552.3 L772.8,551.9 L773.6,551.7 L774.4,551.2 L775.2,550.4 L776.0,550.7 L776.8,550.6 L777.6,550.6 L778.4,550.8 L779.2,551.1 L780.0,551.1 L780.8,551.2 L781.6,551.3 L782.4,551.4 L783.2,551.0 L784.0,550.6 L784.8,550.8 L785.6,550.4 L786.4,550.7 L787.2,550.7 L788.0,550.5 L788.8,550.3 L789.6,550.2 L790.4,550.4 L791.2,550.0 L792.0,550.8 L792.8,551.0 L793.6,550.5 L794.4,550.2 L795.2,550.0 L796.0,550.6 L796.8,550.8 L797.6,550.9 L798.4,551.0 L799.2,550.4 L800.0,550.2 L800.8,550.0 L801.6,549.6 L802.4,549.4 L803.2,549.0 L804.0,548.5 L804.8,548.2 L805.6,548.4 L806.4,549.0 L807.2,548.6 L808.0,549.2 L808.8,549.1 L809.6,550.0 L810.4,549.3 L811.2,549.7 L812.0,549.3 L812.8,550.4 L813.6,549.0 L814.4,548.9 L815.2,547.9 L816.0,548.1 L816.8,547.6 L817.6,548.1 L818.4,548.4 L819.2,549.3 L820.0,549.8 L820.8,550.4 L821.6,549.4 L822.4,549.9 L823.2,549.6 L824.0,549.2 L824.8,549.0 L825.6,548.8 L826.4,548.5 L827.2,548.6 L828.0,548.7 L828.8,549.1 L829.6,549.4 L830.4,548.9 L831.2,548.8 L832.0,548.9 L832.8,548.9 L833.6,548.8 L834.4,548.4 L835.2,547.8 L836.0,548.5 L836.8,548.7 L837.6,549.1 L838.4,549.2 L839.2,549.5 L840.0,549.3 L840.8,549.0 L841.6,548.9 L842.4,548.4 L843.2,548.2 L844.0,547.8 L844.8,547.4 L845.6,547.6 L846.4,547.8 L847.2,547.7 L848.0,547.8 L848.8,547.1 L849.6,547.7 L850.4,547.3 L851.2,548.0 L852.0,549.0 L852.8,548.9 L853.6,548.8 L854.4,549.0 L855.2,548.9 L856.0,548.7 L856.8,548.1 L857.6,547.0 L858.4,546.2 L859.2,545.7 L860.0,546.5 L860.8,547.1 L861.6,548.4 L862.4,548.7 L863.2,548.7 L864.0,548.1 L864.8,547.1 L865.6,546.4 L866.4,546.1 L867.2,546.2 L868.0,546.6 L868.8,546.8 L869.6,547.2 L870.4,548.0 L871.2,548.5 L872.0,549.2 L872.8,549.5 L873.6,549.6 L874.4,548.6 L875.2,548.5 L876.0,548.2 L876.8,548.0 L877.6,548.1 L878.4,548.2 L879.2,548.4 L880.0,547.8 L880.8,547.6 L881.6,547.9 L882.4,548.2 L883.2,549.5 L884.0,549.4 L884.8,549.6 L885.6,549.9 L886.4,549.3 L887.2,549.8 L888.0,550.4 L888.8,551.4 L889.6,552.3 L890.4,551.6 L891.2,550.8 L892.0,550.8 L892.8,550.6 L893.6,550.2 L894.4,550.4 L895.2,550.3 L896.0,549.6 L896.8,548.9 L897.6,549.1 L898.4,549.3 L899.2,550.4 L900.0,551.2 L900.8,552.5 L901.6,552.1 L902.4,551.8 L903.2,551.6 L904.0,551.0 L904.8,550.2 L905.6,550.2 L906.4,550.2 L907.2,550.3 L908.0,550.3 L908.8,550.6 L909.6,550.4 L910.4,551.2 L911.2,551.0 L912.0,550.7 L912.8,550.5 L913.6,550.1 L914.4,549.4 L915.2,548.8 L916.0,548.1 L916.8,547.4" stroke="#F14040"/>
<path d="M57.6,468.0 L58.4,466.8 L59.2,465.8 L60.0,464.5 L60.8,464.2 L61.6,463.5 L62.4,463.0 L63.2,462.7 L64.0,463.2 L64.8,463.8 L65.6,464.0 L66.4,464.6 L67.2,464.3 L68.0,463.9 L68.8,462.7 L69.6,462.0 L70.4,461.9 L71.2,461.9 L72.0,463.0 L72.8,462.8 L73.6,462.9 L74.4,463.0 L75.2,463.5 L76.0,463.4 L76.8,463.5 L77.6,464.0 L78.4,464.7 L79.2,464.6 L80.0,464.5 L80.8,464.6 L81.6,464.7 L82.4,464.7 L83.2,463.8 L84.0,464.1 L84.8,464.6 L85.6,465.0 L86.4,466.2 L87.2,466.8 L88.0,467.4 L88.8,466.9 L89.6,466.5 L90.4,467.5 L91.2,468.0 L92.0,468.6 L92.8,469.5 L93.6,469.7 L94.4,469.4 L95.2,469.4 L96.0,468.9 L96.8,469.8 L97.6,470.6 L98.4,470.8 L99.2,470.8 L100.0,470.3 L100.8,469.7 L101.6,468.3 L102.4,468.4 L103.2,467.5 L104.0,467.6 L104.8,467.0 L105.6,467.5 L106.4,467.6 L107.2,467.2 L108.0,467.7 L108.8,466.9 L109.6,466.8 L110.4,466.5 L111.2,466.1 L112.0,466.5 L112.8,466.9 L113.6,466.1 L114.4,466.7 L115.2,466.8 L116.0,467.7 L116.8,467.6 L117.6,467.6 L118.4,467.3 L119.2,466.9 L120.0,466.2 L120.8,466.5 L121.6,465.4 L122.4,465.8 L123.2,466.3 L124.0,466.7 L124.8,467.5 L125.6,468.2 L126.4,468.4 L127.2,469.1 L128.0,469.8 L128.8,471.4 L129.6,471.9 L130.4,471.5 L131.2,470.8 L132.0,470.8 L132.8,470.8 L133.6,471.3 L134.4,471.8 L135.2,471.6 L136.0,471.8 L136.8,472.1 L137.6,471.2 L138.4,469.9 L139.2,469.7 L140.0,469.9 L140.8,470.5 L141.6,470.5 L142.4,470.4 L143.2,470.4 L144.0,470.8 L144.8,470.7 L145.6,470.4 L146.4,470.3 L147.2,470.3 L148.0,470.7 L148.8,470.2 L149.6,469.9 L150.4,469.3 L151.2,468.6 L152.0,467.9 L152.8,468.3 L153.6,467.6 L154.4,467.7 L155.2,467.4 L156.0,467.4 L156.8,468.2 L157.6,468.7 L158.4,469.0 L159.2,469.1 L160.0,468.5 L160.8,468.0 L161.6,467.7 L162.4,468.1 L163.2,468.0 L164.0,467.9 L164.8,468.3 L165.6,467.8 L166.4,467.3 L167.2,467.1 L168.0,466.4 L168.8,466.1 L169.6,466.6 L170.4,467.2 L171.2,467.6 L172.0,468.2 L172.8,468.0 L173.6,468.7 L174.4,468.9 L175.2,468.9 L176.0,469.2 L176.8,469.2 L177.6,468.7 L178.4,468.8 L179.2,467.8 L180.0,467.8 L180.8,467.7 L181.6,468.0 L182.4,467.9 L183.2,468.3 L184.0,468.2 L184.8,468.2 L185.6,467.2 L186.4,466.7 L187.2,465.9 L188.0,465.2 L188.8,466.5 L189.6,466.5 L190.4,467.0 L191.2,468.0 L192.0,467.1 L192.8,467.2 L193.6,467.2 L194.4,467.1 L195.2,467.2 L196.0,466.8 L196.8,466.0 L197.6,464.9 L198.4,464.7 L199.2,465.3 L200.0,466.1 L200.8,466.5 L201.6,467.3 L202.4,467.3 L203.2,467.2 L204.0,467.5 L204.8,467.3 L205.6,467.8 L206.4,468.2 L207.2,468.9 L208.0,469.2 L208.8,468.6 L209.6,467.7 L210.4,466.6 L211.2,466.4 L212.0,466.7 L212.8,467.3 L213.6,467.6 L214.4,468.8 L215.2,468.7 L216.0,468.4 L216.8,468.0 L217.6,467.5 L218.4,466.8 L219.2,466.0 L220.0,465.7 L220.8,466.1 L221.6,467.2 L222.4,468.3 L223.2,468.5 L224.0,468.4 L224.8,467.4 L225.6,466.7 L226.4,467.4 L227.2,467.5 L228.0,469.2 L228.8,469.8 L229.6,470.9 L230.4,471.7 L231.2,471.8 L232.0,472.1 L232.8,471.7 L233.6,471.2 L234.4,470.5 L235.2,469.7 L236.0,470.1 L236.8,470.2 L237.6,471.8 L238.4,471.8 L239.2,473.2 L240.0,473.6 L240.8,473.2 L241.6,473.3 L242.4,473.1 L243.2,473.0 L244.0,473.5 L244.8,474.6 L245.6,474.2 L246.4,474.1 L247.2,473.2 L248.0,472.5 L248.8,471.6 L249.6,471.8 L250.4,472.7 L251.2,472.8 L252.0,473.1 L252.8,473.4 L253.6,473.6 L254.4,473.3 L255.2,473.7 L256.0,473.6 L256.8,473.7 L257.6,474.3 L258.4,473.3 L259.2,473.7 L260.0,474.0 L260.8,473.8 L261.6,474.1 L262.4,473.9 L263.2,473.5 L264.0,473.7 L264.8,472.4 L265.6,471.7 L266.4,472.2 L267.2,472.4 L268.0,473.5 L268.8,474.6 L269.6,476.2 L270.4,476.7 L271.2,478.2 L272.0,478.6 L272.8,478.3 L273.6,478.5 L274.4,477.5 L275.2,477.5 L276.0,476.9 L276.8,476.9 L277.6,476.9 L278.4,477.2 L279.2,476.7 L280.0,477.4 L280.8,477.5 L281.6,478.2 L282.4,478.9 L283.2,480.1 L284.0,480.5 L284.8,481.6 L285.6,481.6 L286.4,480.7 L287.2,480.4 L288.0,480.2 L288.8,480.4 L289.6,480.9 L290.4,480.6 L291.2,481.2 L292.0,481.1 L292.8,480.6 L293.6,479.6 L294.4,479.0 L295.2,477.7 L296.0,478.1 L296.8,478.3 L297.6,478.5 L298.4,479.1 L299.2,479.5 L300.0,479.8 L300.8,478.7 L301.6,478.1 L302.4,478.2 L303.2,478.4 L304.0,478.6 L304.8,479.7 L305.6,479.8 L306.4,479.9 L307.2,479.3 L308.0,479.0 L308.8,478.5 L309.6,477.7 L310.4,478.4 L311.2,478.0 L312.0,478.4 L312.8,477.8 L313.6,478.3 L314.4,477.4 L315.2,477.0 L316.0,476.2 L316.8,474.8 L317.6,473.9 L318.4,473.8 L319.2,473.7 L320.0,473.3 L320.8,473.2 L321.6,473.1 L322.4,472.4 L323.2,472.9 L324.0,473.4 L324.8,472.7 L325.6,472.1 L326.4,472.1 L327.2,471.5 L328.0,471.1 L328.8,470.1 L329.6,469.8 L330.4,468.9 L331.2,469.6 L332.0,469.8 L332.8,469.4 L333.6,467.8 L334.4,467.0 L335.2,465.0 L336.0,465.2 L336.8,465.5 L337.6,466.4 L338.4,467.9 L339.2,468.5 L340.0,468.6 L340.8,467.9 L341.6,467.2 L342.4,466.0 L343.2,465.7 L344.0,465.7 L344.8,466.2 L345.6,466.5 L346.4,467.2 L347.2,466.7 L348.0,466.5 L348.8,465.9 L349.6,464.9 L350.4,464.4 L351.2,463.7 L352.0,463.9 L352.8,463.1 L353.6,462.9 L354.4,461.9 L355.2,461.7 L356.0,460.5 L356.8,460.7 L357.6,460.3 L358.4,460.1 L359.2,459.9 L360.0,458.9 L360.8,458.7 L361.6,458.8 L362.4,459.1 L363.2,458.4 L364.0,458.4 L364.8,457.2 L365.6,456.2 L366.4,455.5 L367.2,455.2 L368.0,454.9 L368.8,455.0 L369.6,455.0 L370.4,454.5 L371.2,453.5 L372.0,453.7 L372.8,453.8 L373.6,453.9 L374.4,454.0 L375.2,453.2 L376.0,452.4 L376.8,451.4 L377.6,450.6 L378.4,449.4 L379.2,448.1 L380.0,445.9 L380.8,444.8 L381.6,443.8 L382.4,443.4 L383.2,442.6 L384.0,442.1 L384.8,441.6 L385.6,440.9 L386.4,439.6 L387.2,438.5 L388.0,437.0 L388.8,435.8 L389.6,435.2 L390.4,434.5 L391.2,434.6 L392.0,434.2 L392.8,434.0 L393.6,433.4 L394.4,431.8 L395.2,429.6 L396.0,428.3 L396.8,427.2 L397.6,426.7 L398.4,426.8 L399.2,426.9 L400.0,426.4 L400.8,424.7 L401.6,423.9 L402.4,422.9 L403.2,421.6 L404.0,421.2 L404.8,420.3 L405.6,419.2 L406.4,417.7 L407.2,417.0 L408.0,416.3 L408.8,415.3 L409.6,414.2 L410.4,412.3 L411.2,411.6 L412.0,410.2 L412.8,409.0 L413.6,409.1 L414.4,408.5 L415.2,408.3 L416.0,407.5 L416.8,407.0 L417.6,405.8 L418.4,404.7 L419.2,404.0 L420.0,403.0 L420.8,402.4 L421.6,402.6 L422.4,402.1 L423.2,401.9 L424.0,401.5 L424.8,400.8 L425.6,400.4 L426.4,400.0 L427.2,398.2 L428.0,397.3 L428.8,396.4 L429.6,396.0 L430.4,395.8 L431.2,394.4 L432.0,392.7 L432.8,391.6 L433.6,390.6 L434.4,389.9 L435.2,389.4 L436.0,388.9 L436.8,388.2 L437.6,386.8 L438.4,385.1 L439.2,383.5 L440.0,382.3 L440.8,382.3 L441.6,382.1 L442.4,382.6 L443.2,382.2 L444.0,381.7 L444.8,380.7 L445.6,379.4 L446.4,379.1 L447.2,378.0 L448.0,376.3 L448.8,375.8 L449.6,375.5 L450.4,374.3 L451.2,374.2 L452.0,372.8 L452.8,371.6 L453.6,371.3 L454.4,370.2 L455.2,368.9 L456.0,368.2 L456.8,366.2 L457.6,365.5 L458.4,363.0 L459.2,361.4 L460.0,359.3 L460.8,357.9 L461.6,357.0 L462.4,356.1 L463.2,356.3 L464.0,355.8 L464.8,355.0 L465.6,353.9 L466.4,352.1 L467.2,350.4 L468.0,349.4 L468.8,348.2 L469.6,348.0 L470.4,347.4 L471.2,346.5 L472.0,345.8 L472.8,345.6 L473.6,345.2 L474.4,344.4 L475.2,343.3 L476.0,342.8 L476.8,341.2 L477.6,340.6 L478.4,340.3 L479.2,340.4 L480.0,339.5 L480.8,338.8 L481.6,339.1 L482.4,339.1 L483.2,339.0 L484.0,338.4 L484.8,338.0 L485.6,337.9 L486.4,337.5 L487.2,337.2 L488.0,336.4 L488.8,334.5 L489.6,333.1 L490.4,331.1 L491.2,329.3 L492.0,328.9 L492.8,328.6 L493.6,328.2 L494.4,327.8 L495.2,326.3 L496.0,324.7 L496.8,323.5 L497.6,322.9 L498.4,322.4 L499.2,321.7 L500.0,321.3 L500.8,319.7 L501.6,317.8 L502.4,315.8 L503.2,313.9 L504.0,312.6 L504.8,312.3 L505.6,310.5 L506.4,309.9 L507.2,308.3 L508.0,306.1 L508.8,303.9 L509.6,302.3 L510.4,300.4 L511.2,299.5 L512.0,298.3 L512.8,295.9 L513.6,293.7 L514.4,291.5 L515.2,289.5 L516.0,287.6 L516.8,285.8 L517.6,284.0 L518.4,282.4 L519.2,281.2 L520.0,279.8 L520.8,278.0 L521.6,276.8 L522.4,275.3 L523.2,273.7 L524.0,271.4 L524.8,269.9 L525.6,267.7 L526.4,266.3 L527.2,264.5 L528.0,262.4 L528.8,260.0 L529.6,256.7 L530.4,254.9 L531.2,253.3 L532.0,251.0 L532.8,249.6 L533.6,246.7 L534.4,244.5 L535.2,241.3 L536.0,237.8 L536.8,233.6 L537.6,229.9 L538.4,225.0 L539.2,220.5 L540.0,217.1 L540.8,214.2 L541.6,213.6 L542.4,212.8 L543.2,211.5 L544.0,209.9 L544.8,207.7 L545.6,206.5 L546.4,204.9 L547.2,203.3 L548.0,201.3 L548.8,199.7 L549.6,198.0 L550.4,196.0 L551.2,194.3 L552.0,192.5 L552.8,190.7 L553.6,188.9 L554.4,187.5 L555.2,186.5 L556.0,186.0 L556.8,185.4 L557.6,184.7 L558.4,183.6 L559.2,183.1 L560.0,182.5 L560.8,183.2 L561.6,183.2 L562.4,184.1 L563.2,184.5 L564.0,185.3 L564.8,185.7 L565.6,186.4 L566.4,186.0 L567.2,185.6 L568.0,185.0 L568.8,184.5 L569.6,184.2 L570.4,184.0 L571.2,182.9 L572.0,183.1 L572.8,183.9 L573.6,184.8 L574.4,185.9 L575.2,187.7 L576.0,189.1 L576.8,189.3 L577.6,190.3 L578.4,190.9 L579.2,191.3 L580.0,191.6 L580.8,193.0 L581.6,193.2 L582.4,193.4 L583.2,194.1 L584.0,193.6 L584.8,194.3 L585.6,194.4 L586.4,196.0 L587.2,197.5 L588.0,200.1 L588.8,202.5 L589.6,204.8 L590.4,207.7 L591.2,211.5 L592.0,215.1 L592.8,220.3 L593.6,224.7 L594.4,228.6 L595.2,232.0 L596.0,235.6 L596.8,237.4 L597.6,240.2 L598.4,242.9 L599.2,246.4 L600.0,248.8 L600.8,253.2 L601.6,256.4 L602.4,260.3 L603.2,264.9 L604.0,269.1 L604.8,272.8 L605.6,276.0 L606.4,279.5 L607.2,282.6 L608.0,286.1 L608.8,289.6 L609.6,294.6 L610.4,299.5 L611.2,304.0 L612.0,308.6 L612.8,313.9 L613.6,320.0 L614.4,324.9 L615.2,329.8 L616.0,333.9 L616.8,337.9 L617.6,341.0 L618.4,344.4 L619.2,347.9 L620.0,351.9 L620.8,355.8 L621.6,358.8 L622.4,362.1 L623.2,364.6 L624.0,367.2 L624.8,370.0 L625.6,372.9 L626.4,376.3 L627.2,379.2 L628.0,382.1 L628.8,385.6 L629.6,389.2 L630.4,393.1 L631.2,396.7 L632.0,399.9 L632.8,402.1 L633.6,404.9 L634.4,407.3 L635.2,408.8 L636.0,411.6 L636.8,413.4 L637.6,415.8 L638.4,418.3 L639.2,421.9 L640.0,423.8 L640.8,425.6 L641.6,427.1 L642.4,427.9 L643.2,429.3 L644.0,431.2 L644.8,433.8 L645.6,436.3 L646.4,438.4 L647.2,440.2 L648.0,441.5 L648.8,442.9 L649.6,444.1 L650.4,446.3 L651.2,447.4 L652.0,448.3 L652.8,449.7 L653.6,451.1 L654.4,450.8 L655.2,451.7 L656.0,453.0 L656.8,454.1 L657.6,456.1 L658.4,457.6 L659.2,458.0 L660.0,459.3 L660.8,459.7 L661.6,460.8 L662.4,462.4 L663.2,463.6 L664.0,464.1 L664.8,464.8 L665.6,464.3 L666.4,464.8 L667.2,465.2 L668.0,466.4 L668.8,467.3 L669.6,468.1 L670.4,468.3 L671.2,469.3 L672.0,470.1 L672.8,470.4 L673.6,471.4 L674.4,472.7 L675.2,473.7 L676.0,474.4 L676.8,475.0 L677.6,475.2 L678.4,475.1 L679.2,475.0 L680.0,474.9 L680.8,475.3 L681.6,475.4 L682.4,476.2 L683.2,475.8 L684.0,475.8 L684.8,475.9 L685.6,476.1 L686.4,476.0 L687.2,476.1 L688.0,475.7 L688.8,475.9 L689.6,475.6 L690.4,476.0 L691.2,476.2 L692.0,475.8 L692.8,476.3 L693.6,476.4 L694.4,476.2 L695.2,475.9 L696.0,475.1 L696.8,475.7 L697.6,475.3 L698.4,475.5 L699.2,475.9 L700.0,474.9 L700.8,474.7 L701.6,473.7 L702.4,473.1 L703.2,472.8 L704.0,473.0 L704.8,473.4 L705.6,474.8 L706.4,474.6 L707.2,474.6 L708.0,474.9 L708.8,474.0 L709.6,473.8 L710.4,473.7 L711.2,473.9 L712.0,473.8 L712.8,474.0 L713.6,474.6 L714.4,474.7 L715.2,474.1 L716.0,474.6 L716.8,475.2 L717.6,475.1 L718.4,474.7 L719.2,474.6 L720.0,473.1 L720.8,473.1 L721.6,472.4 L722.4,472.3 L723.2,472.2 L724.0,472.1 L724.8,471.3 L725.6,470.7 L726.4,470.6 L727.2,470.2 L728.0,469.8 L728.8,470.6 L729.6,470.8 L730.4,470.9 L731.2,470.5 L732.0,470.3 L732.8,469.8 L733.6,469.3 L734.4,469.7 L735.2,470.1 L736.0,470.5 L736.8,471.7 L737.6,471.1 L738.4,471.4 L739.2,471.5 L740.0,471.7 L740.8,470.7 L741.6,469.6 L742.4,468.3 L743.2,467.9 L744.0,468.2 L744.8,469.7 L745.6,470.5 L746.4,471.0 L747.2,470.6 L748.0,471.3 L748.8,470.5 L749.6,470.4 L750.4,470.9 L751.2,471.0 L752.0,471.1 L752.8,470.5 L753.6,470.4 L754.4,470.0 L755.2,468.8 L756.0,468.6 L756.8,468.4 L757.6,469.1 L758.4,469.5 L759.2,469.6 L760.0,469.6 L760.8,469.5 L761.6,468.5 L762.4,467.9 L763.2,467.1 L764.0,467.4 L764.8,468.0 L765.6,467.9 L766.4,468.0 L767.2,467.9 L768.0,467.9 L768.8,467.9 L769.6,468.0 L770.4,468.1 L771.2,466.9 L772.0,466.6 L772.8,466.5 L773.6,467.1 L774.4,468.2 L775.2,468.5 L776.0,468.7 L776.8,469.4 L777.6,468.9 L778.4,468.6 L779.2,467.7 L780.0,467.1 L780.8,466.5 L781.6,466.5 L782.4,466.6 L783.2,467.6 L784.0,468.5 L784.8,468.8 L785.6,468.8 L786.4,468.4 L787.2,467.9 L788.0,468.5 L788.8,468.4 L789.6,467.8 L790.4,467.4 L791.2,466.4 L792.0,465.4 L792.8,465.1 L793.6,464.5 L794.4,464.7 L795.2,464.6 L796.0,465.1 L796.8,465.7 L797.6,466.3 L798.4,466.4 L799.2,467.2 L800.0,467.1 L800.8,468.1 L801.6,468.4 L802.4,468.5 L803.2,467.7 L804.0,467.0 L804.8,466.5 L805.6,467.4 L806.4,466.7 L807.2,467.3 L808.0,466.3 L808.8,466.3 L809.6,465.7 L810.4,465.1 L811.2,465.2 L812.0,465.9 L812.8,467.0 L813.6,468.2 L814.4,468.1 L815.2,467.3 L816.0,466.5 L816.8,465.6 L817.6,466.0 L818.4,466.3 L819.2,466.0 L820.0,466.1 L820.8,466.0 L821.6,465.1 L822.4,465.3 L823.2,464.9 L824.0,464.3 L824.8,464.3 L825.6,464.3 L826.4,463.5 L827.2,464.2 L828.0,464.1 L828.8,464.1 L829.6,464.1 L830.4,463.5 L831.2,462.8 L832.0,462.4 L832.8,462.7 L833.6,463.2 L834.4,463.9 L835.2,464.7 L836.0,465.4 L836.8,466.1 L837.6,466.1 L838.4,466.1 L839.2,466.6 L840.0,467.2 L840.8,466.7 L841.6,466.3 L842.4,465.8 L843.2,464.9 L844.0,465.0 L844.8,464.0 L845.6,465.2 L846.4,465.5 L847.2,466.4 L848.0,467.7 L848.8,467.7 L849.6,468.3 L850.4,468.1 L851.2,467.6 L852.0,467.7 L852.8,468.6 L853.6,468.9 L854.4,469.4 L855.2,469.2 L856.0,468.7 L856.8,467.3 L857.6,466.7 L858.4,466.6 L859.2,465.7 L860.0,466.7 L860.8,466.9 L861.6,467.3 L862.4,468.2 L863.2,467.6 L864.0,467.9 L864.8,467.7 L865.6,468.0 L866.4,467.7 L867.2,467.7 L868.0,468.1 L868.8,468.5 L869.6,469.1 L870.4,468.5 L871.2,468.4 L872.0,467.9 L872.8,467.6 L873.6,466.7 L874.4,466.8 L875.2,466.2 L876.0,466.6 L876.8,467.1 L877.6,468.2 L878.4,468.9 L879.2,469.6 L880.0,470.0 L880.8,469.9 L881.6,469.6 L882.4,469.2 L883.2,469.0 L884.0,468.6 L884.8,467.9 L885.6,467.2 L886.4,468.4 L887.2,469.4 L888.0,469.8 L888.8,470.4 L889.6,470.0 L890.4,470.1 L891.2,468.8 L892.0,468.7 L892.8,466.9 L893.6,467.2 L894.4,467.4 L895.2,467.5 L896.0,467.8 L896.8,468.3 L897.6,468.1 L898.4,467.9 L899.2,467.5 L900.0,467.4 L900.8,467.9 L901.6,468.9 L902.4,469.0 L903.2,469.0 L904.0,468.6 L904.8,468.9 L905.6,468.7 L906.4,469.7 L907.2,469.1 L908.0,469.7 L908.8,469.3 L909.6,469.7 L910.4,469.6 L911.2,469.6 L912.0,470.4 L912.8,471.5 L913.6,471.5 L914.4,471.5 L915.2,470.3 L916.0,469.6 L916.8,469.6" stroke="#1A6FDF"/>
<path d="M57.6,417.5 L58.4,417.2 L59.2,416.5 L60.0,416.8 L60.8,416.8 L61.6,416.8 L62.4,417.4 L63.2,417.8 L64.0,417.6 L64.8,416.9 L65.6,417.1 L66.4,416.7 L67.2,416.6 L68.0,416.2 L68.8,415.5 L69.6,415.6 L70.4,415.1 L71.2,415.4 L72.0,414.8 L72.8,414.2 L73.6,413.5 L74.4,413.3 L75.2,413.1 L76.0,412.8 L76.8,413.9 L77.6,413.8 L78.4,414.3 L79.2,413.7 L80.0,414.5 L80.8,414.1 L81.6,414.9 L82.4,416.0 L83.2,416.8 L84.0,417.2 L84.8,418.5 L85.6,419.7 L86.4,420.4 L87.2,420.2 L88.0,420.1 L88.8,421.0 L89.6,421.4 L90.4,422.7 L91.2,422.7 L92.0,423.1 L92.8,422.8 L93.6,422.7 L94.4,422.2 L95.2,422.6 L96.0,422.8 L96.8,423.7 L97.6,424.2 L98.4,423.6 L99.2,423.7 L100.0,423.3 L100.8,422.6 L101.6,422.6 L102.4,422.2 L103.2,423.0 L104.0,423.1 L104.8,422.9 L105.6,422.8 L106.4,421.4 L107.2,420.8 L108.0,420.2 L108.8,420.3 L109.6,419.9 L110.4,420.4 L111.2,419.7 L112.0,419.6 L112.8,419.6 L113.6,419.0 L114.4,418.6 L115.2,418.9 L116.0,418.7 L116.8,419.2 L117.6,419.3 L118.4,419.2 L119.2,419.6 L120.0,419.8 L120.8,419.5 L121.6,419.2 L122.4,419.2 L123.2,418.6 L124.0,419.1 L124.8,419.2 L125.6,420.5 L126.4,420.9 L127.2,422.2 L128.0,424.7 L128.8,426.3 L129.6,427.8 L130.4,428.5 L131.2,428.5 L132.0,427.9 L132.8,427.7 L133.6,427.1 L134.4,426.4 L135.2,426.2 L136.0,426.0 L136.8,426.6 L137.6,427.1 L138.4,427.3 L139.2,427.2 L140.0,426.4 L140.8,425.9 L141.6,424.6 L142.4,424.5 L143.2,424.8 L144.0,425.5 L144.8,425.8 L145.6,426.3 L146.4,425.6 L147.2,424.9 L148.0,425.1 L148.8,424.8 L149.6,425.1 L150.4,424.8 L151.2,423.9 L152.0,423.9 L152.8,423.7 L153.6,424.2 L154.4,425.0 L155.2,424.7 L156.0,424.1 L156.8,423.8 L157.6,422.6 L158.4,421.6 L159.2,420.9 L160.0,420.5 L160.8,421.0 L161.6,423.2 L162.4,424.0 L163.2,424.5 L164.0,424.4 L164.8,424.6 L165.6,423.9 L166.4,423.5 L167.2,423.4 L168.0,423.0 L168.8,423.1 L169.6,423.7 L170.4,424.2 L171.2,424.7 L172.0,424.3 L172.8,423.9 L173.6,423.1 L174.4,423.0 L175.2,423.2 L176.0,423.5 L176.8,423.5 L177.6,423.2 L178.4,423.2 L179.2,422.5 L180.0,422.2 L180.8,421.6 L181.6,420.8 L182.4,421.2 L183.2,420.9 L184.0,420.6 L184.8,420.0 L185.6,419.3 L186.4,419.4 L187.2,418.8 L188.0,418.7 L188.8,418.1 L189.6,416.8 L190.4,416.1 L191.2,415.2 L192.0,415.8 L192.8,415.9 L193.6,416.8 L194.4,417.2 L195.2,417.7 L196.0,417.3 L196.8,417.3 L197.6,417.1 L198.4,418.3 L199.2,418.7 L200.0,419.6 L200.8,419.7 L201.6,420.0 L202.4,420.0 L203.2,419.6 L204.0,419.9 L204.8,419.9 L205.6,419.8 L206.4,419.7 L207.2,419.6 L208.0,420.8 L208.8,420.8 L209.6,422.0 L210.4,423.0 L211.2,423.7 L212.0,423.7 L212.8,423.8 L213.6,423.7 L214.4,423.5 L215.2,423.8 L216.0,424.1 L216.8,425.0 L217.6,426.7 L218.4,428.4 L219.2,430.0 L220.0,430.7 L220.8,430.3 L221.6,429.9 L222.4,429.7 L223.2,430.4 L224.0,429.6 L224.8,429.3 L225.6,429.2 L226.4,428.1 L227.2,428.1 L228.0,428.2 L228.8,428.2 L229.6,428.8 L230.4,428.8 L231.2,428.0 L232.0,428.4 L232.8,427.8 L233.6,427.8 L234.4,428.1 L235.2,428.3 L236.0,429.2 L236.8,429.3 L237.6,429.9 L238.4,429.5 L239.2,428.4 L240.0,427.6 L240.8,427.7 L241.6,427.1 L242.4,427.4 L243.2,427.2 L244.0,426.9 L244.8,426.1 L245.6,425.8 L246.4,426.2 L247.2,427.1 L248.0,427.9 L248.8,429.3 L249.6,429.7 L250.4,429.8 L251.2,429.8 L252.0,430.0 L252.8,430.0 L253.6,429.1 L254.4,429.5 L255.2,429.1 L256.0,428.7 L256.8,429.1 L257.6,429.9 L258.4,431.0 L259.2,430.7 L260.0,429.9 L260.8,428.7 L261.6,428.2 L262.4,427.2 L263.2,427.0 L264.0,427.3 L264.8,427.5 L265.6,427.9 L266.4,428.2 L267.2,428.6 L268.0,428.3 L268.8,428.4 L269.6,428.4 L270.4,428.1 L271.2,428.0 L272.0,427.2 L272.8,426.9 L273.6,426.2 L274.4,425.3 L275.2,425.2 L276.0,425.2 L276.8,424.8 L277.6,425.3 L278.4,426.9 L279.2,428.1 L280.0,430.2 L280.8,431.6 L281.6,432.4 L282.4,432.0 L283.2,431.7 L284.0,432.3 L284.8,432.0 L285.6,432.8 L286.4,434.4 L287.2,434.9 L288.0,435.7 L288.8,437.9 L289.6,437.9 L290.4,438.0 L291.2,438.7 L292.0,438.1 L292.8,438.6 L293.6,438.3 L294.4,438.1 L295.2,438.2 L296.0,438.1 L296.8,437.9 L297.6,437.3 L298.4,435.9 L299.2,434.9 L300.0,434.4 L300.8,433.7 L301.6,433.9 L302.4,434.9 L303.2,435.6 L304.0,436.4 L304.8,436.7 L305.6,437.3 L306.4,437.8 L307.2,437.7 L308.0,436.6 L308.8,436.3 L309.6,436.0 L310.4,436.1 L311.2,435.2 L312.0,435.5 L312.8,434.1 L313.6,433.6 L314.4,433.7 L315.2,433.3 L316.0,433.6 L316.8,433.5 L317.6,433.5 L318.4,432.4 L319.2,431.6 L320.0,430.5 L320.8,429.5 L321.6,429.6 L322.4,429.6 L323.2,429.3 L324.0,430.0 L324.8,429.5 L325.6,429.6 L326.4,429.0 L327.2,429.0 L328.0,428.8 L328.8,428.5 L329.6,426.7 L330.4,426.2 L331.2,425.6 L332.0,425.4 L332.8,424.4 L333.6,423.8 L334.4,423.3 L335.2,422.8 L336.0,422.4 L336.8,422.6 L337.6,422.9 L338.4,422.9 L339.2,422.2 L340.0,421.4 L340.8,420.3 L341.6,419.1 L342.4,418.8 L343.2,419.0 L344.0,419.3 L344.8,418.5 L345.6,418.1 L346.4,418.0 L347.2,417.1 L348.0,416.4 L348.8,416.4 L349.6,416.5 L350.4,415.8 L351.2,415.6 L352.0,415.4 L352.8,415.3 L353.6,414.0 L354.4,413.5 L355.2,412.9 L356.0,412.1 L356.8,411.3 L357.6,411.1 L358.4,410.6 L359.2,410.4 L360.0,409.8 L360.8,409.0 L361.6,407.8 L362.4,408.0 L363.2,407.9 L364.0,407.7 L364.8,408.4 L365.6,408.6 L366.4,408.6 L367.2,407.9 L368.0,407.8 L368.8,406.8 L369.6,405.9 L370.4,404.6 L371.2,404.5 L372.0,404.0 L372.8,403.2 L373.6,402.3 L374.4,401.6 L375.2,401.2 L376.0,400.2 L376.8,398.9 L377.6,397.8 L378.4,396.8 L379.2,396.1 L380.0,395.3 L380.8,394.3 L381.6,393.4 L382.4,392.4 L383.2,391.4 L384.0,390.7 L384.8,389.4 L385.6,389.2 L386.4,388.7 L387.2,388.6 L388.0,387.8 L388.8,386.7 L389.6,385.7 L390.4,384.1 L391.2,382.8 L392.0,380.9 L392.8,379.3 L393.6,378.3 L394.4,378.2 L395.2,378.1 L396.0,377.2 L396.8,376.9 L397.6,376.4 L398.4,376.0 L399.2,375.1 L400.0,374.7 L400.8,374.0 L401.6,373.3 L402.4,371.2 L403.2,369.7 L404.0,368.1 L404.8,366.4 L405.6,364.9 L406.4,363.5 L407.2,362.5 L408.0,361.9 L408.8,361.2 L409.6,360.5 L410.4,359.7 L411.2,358.5 L412.0,358.1 L412.8,357.5 L413.6,357.0 L414.4,356.2 L415.2,355.6 L416.0,353.8 L416.8,352.6 L417.6,351.0 L418.4,349.3 L419.2,348.3 L420.0,347.5 L420.8,346.9 L421.6,346.8 L422.4,345.0 L423.2,343.9 L424.0,341.7 L424.8,340.6 L425.6,339.2 L426.4,338.6 L427.2,338.4 L428.0,338.2 L428.8,337.4 L429.6,336.5 L430.4,335.3 L431.2,334.4 L432.0,334.0 L432.8,333.1 L433.6,333.5 L434.4,333.2 L435.2,333.6 L436.0,332.7 L436.8,332.5 L437.6,330.9 L438.4,329.6 L439.2,329.2 L440.0,327.9 L440.8,326.1 L441.6,324.4 L442.4,323.2 L443.2,322.2 L444.0,320.6 L444.8,318.9 L445.6,318.2 L446.4,317.8 L447.2,317.0 L448.0,317.0 L448.8,316.0 L449.6,315.2 L450.4,313.2 L451.2,311.2 L452.0,309.2 L452.8,308.3 L453.6,307.1 L454.4,306.7 L455.2,306.4 L456.0,306.1 L456.8,304.7 L457.6,303.6 L458.4,302.5 L459.2,301.5 L460.0,299.8 L460.8,298.2 L461.6,296.8 L462.4,295.9 L463.2,295.7 L464.0,295.4 L464.8,295.3 L465.6,294.6 L466.4,294.1 L467.2,292.3 L468.0,291.2 L468.8,289.8 L469.6,289.4 L470.4,289.0 L471.2,287.3 L472.0,285.7 L472.8,284.7 L473.6,282.8 L474.4,281.3 L475.2,280.3 L476.0,279.3 L476.8,278.3 L477.6,276.7 L478.4,275.1 L479.2,274.0 L480.0,273.6 L480.8,273.6 L481.6,273.9 L482.4,272.9 L483.2,272.6 L484.0,272.0 L484.8,270.7 L485.6,269.6 L486.4,268.2 L487.2,267.4 L488.0,265.9 L488.8,264.8 L489.6,264.3 L490.4,262.7 L491.2,261.6 L492.0,260.6 L492.8,260.3 L493.6,259.2 L494.4,258.0 L495.2,256.2 L496.0,254.4 L496.8,251.9 L497.6,249.8 L498.4,248.1 L499.2,246.5 L500.0,245.3 L500.8,244.6 L501.6,242.9 L502.4,242.0 L503.2,240.3 L504.0,237.7 L504.8,236.6 L505.6,234.2 L506.4,233.2 L507.2,231.4 L508.0,230.3 L508.8,228.4 L509.6,227.1 L510.4,225.2 L511.2,223.5 L512.0,221.0 L512.8,218.2 L513.6,216.5 L514.4,214.8 L515.2,214.0 L516.0,213.3 L516.8,211.8 L517.6,209.3 L518.4,206.5 L519.2,203.9 L520.0,201.6 L520.8,198.4 L521.6,195.7 L522.4,193.5 L523.2,191.6 L524.0,190.6 L524.8,188.8 L525.6,187.2 L526.4,185.5 L527.2,183.0 L528.0,179.2 L528.8,175.1 L529.6,171.3 L530.4,167.8 L531.2,164.1 L532.0,161.3 L532.8,159.3 L533.6,155.8 L534.4,152.6 L535.2,149.1 L536.0,146.3 L536.8,143.7 L537.6,141.3 L538.4,138.4 L539.2,135.4 L540.0,133.6 L540.8,131.0 L541.6,128.3 L542.4,125.7 L543.2,123.9 L544.0,122.0 L544.8,119.8 L545.6,118.0 L546.4,115.0 L547.2,113.1 L548.0,111.3 L548.8,109.2 L549.6,107.3 L550.4,105.5 L551.2,104.8 L552.0,104.1 L552.8,103.8 L553.6,103.1 L554.4,101.3 L555.2,99.3 L556.0,97.4 L556.8,95.7 L557.6,94.9 L558.4,94.1 L559.2,94.1 L560.0,94.0 L560.8,92.9 L561.6,91.4 L562.4,88.3 L563.2,85.4 L564.0,82.5 L564.8,80.2 L565.6,78.6 L566.4,78.4 L567.2,77.6 L568.0,77.5 L568.8,77.7 L569.6,77.6 L570.4,77.7 L571.2,78.5 L572.0,78.6 L572.8,78.7 L573.6,78.7 L574.4,79.1 L575.2,78.5 L576.0,78.7 L576.8,79.0 L577.6,80.7 L578.4,81.9 L579.2,82.9 L580.0,84.4 L580.8,84.6 L581.6,85.5 L582.4,87.4 L583.2,89.5 L584.0,93.7 L584.8,97.9 L585.6,102.4 L586.4,105.5 L587.2,108.8 L588.0,111.3 L588.8,114.5 L589.6,117.6 L590.4,121.1 L591.2,124.5 L592.0,127.4 L592.8,130.0 L593.6,133.1 L594.4,135.9 L595.2,139.1 L596.0,142.7 L596.8,145.8 L597.6,149.4 L598.4,153.5 L599.2,156.9 L600.0,161.0 L600.8,164.7 L601.6,168.5 L602.4,172.4 L603.2,176.6 L604.0,180.9 L604.8,185.7 L605.6,190.5 L606.4,195.1 L607.2,200.6 L608.0,206.0 L608.8,211.3 L609.6,216.7 L610.4,223.1 L611.2,227.9 L612.0,232.7 L612.8,238.0 L613.6,243.2 L614.4,247.8 L615.2,251.8 L616.0,256.0 L616.8,260.5 L617.6,265.4 L618.4,269.8 L619.2,274.9 L620.0,279.7 L620.8,284.5 L621.6,289.0 L622.4,293.5 L623.2,298.0 L624.0,301.1 L624.8,305.1 L625.6,308.2 L626.4,312.1 L627.2,316.8 L628.0,320.7 L628.8,324.6 L629.6,328.5 L630.4,331.2 L631.2,334.9 L632.0,338.5 L632.8,341.1 L633.6,344.4 L634.4,347.5 L635.2,350.3 L636.0,353.1 L636.8,356.2 L637.6,359.1 L638.4,362.1 L639.2,364.9 L640.0,367.4 L640.8,370.5 L641.6,373.3 L642.4,376.6 L643.2,379.5 L644.0,382.4 L644.8,384.8 L645.6,386.8 L646.4,387.8 L647.2,389.1 L648.0,389.8 L648.8,391.0 L649.6,392.0 L650.4,394.1 L651.2,395.2 L652.0,396.6 L652.8,398.8 L653.6,401.2 L654.4,403.2 L655.2,405.5 L656.0,406.9 L656.8,408.4 L657.6,408.6 L658.4,410.8 L659.2,412.0 L660.0,413.3 L660.8,413.6 L661.6,413.8 L662.4,413.6 L663.2,414.0 L664.0,414.2 L664.8,414.5 L665.6,416.0 L666.4,417.7 L667.2,419.0 L668.0,420.2 L668.8,420.9 L669.6,421.2 L670.4,421.4 L671.2,422.9 L672.0,423.4 L672.8,423.9 L673.6,424.2 L674.4,424.9 L675.2,425.3 L676.0,426.0 L676.8,426.7 L677.6,427.4 L678.4,428.0 L679.2,429.0 L680.0,430.5 L680.8,430.7 L681.6,431.6 L682.4,431.8 L683.2,432.1 L684.0,431.6 L684.8,431.1 L685.6,430.7 L686.4,429.6 L687.2,429.1 L688.0,429.2 L688.8,429.5 L689.6,429.6 L690.4,430.6 L691.2,430.2 L692.0,430.0 L692.8,429.4 L693.6,428.8 L694.4,428.6 L695.2,428.4 L696.0,429.1 L696.8,429.3 L697.6,429.1 L698.4,429.5 L699.2,429.9 L700.0,430.6 L700.8,431.1 L701.6,430.9 L702.4,429.5 L703.2,428.8 L704.0,428.1 L704.8,427.7 L705.6,427.2 L706.4,426.9 L707.2,426.4 L708.0,426.8 L708.8,427.1 L709.6,427.2 L710.4,427.7 L711.2,427.8 L712.0,428.5 L712.8,429.1 L713.6,429.5 L714.4,430.2 L715.2,430.7 L716.0,430.2 L716.8,430.5 L717.6,430.4 L718.4,429.8 L719.2,428.8 L720.0,428.3 L720.8,428.1 L721.6,427.6 L722.4,427.3 L723.2,426.5 L724.0,426.4 L724.8,426.6 L725.6,427.2 L726.4,426.8 L727.2,427.4 L728.0,426.8 L728.8,426.1 L729.6,424.9 L730.4,424.3 L731.2,423.5 L732.0,422.9 L732.8,424.0 L733.6,424.3 L734.4,425.4 L735.2,425.4 L736.0,425.6 L736.8,425.6 L737.6,425.5 L738.4,426.4 L739.2,426.5 L740.0,425.9 L740.8,426.2 L741.6,424.7 L742.4,423.6 L743.2,422.7 L744.0,422.7 L744.8,422.6 L745.6,423.4 L746.4,424.0 L747.2,424.1 L748.0,424.5 L748.8,424.4 L749.6,423.7 L750.4,423.7 L751.2,422.9 L752.0,422.5 L752.8,421.7 L753.6,421.5 L754.4,422.2 L755.2,422.5 L756.0,422.3 L756.8,422.7 L757.6,422.2 L758.4,422.6 L759.2,422.5 L760.0,422.9 L760.8,423.2 L761.6,423.4 L762.4,424.0 L763.2,423.9 L764.0,425.1 L764.8,425.4 L765.6,425.2 L766.4,425.6 L767.2,425.6 L768.0,425.2 L768.8,425.6 L769.6,425.6 L770.4,425.1 L771.2,425.0 L772.0,425.1 L772.8,424.7 L773.6,424.4 L774.4,423.6 L775.2,422.7 L776.0,422.4 L776.8,422.4 L777.6,422.9 L778.4,423.1 L779.2,423.9 L780.0,423.1 L780.8,422.5 L781.6,422.0 L782.4,421.8 L783.2,422.3 L784.0,422.5 L784.8,422.4 L785.6,422.2 L786.4,421.6 L787.2,421.7 L788.0,421.7 L788.8,421.6 L789.6,421.1 L790.4,421.0 L791.2,420.8 L792.0,421.1 L792.8,421.3 L793.6,421.4 L794.4,421.3 L795.2,421.0 L796.0,420.2 L796.8,420.0 L797.6,420.2 L798.4,420.9 L799.2,421.0 L800.0,421.1 L800.8,420.7 L801.6,419.8 L802.4,419.9 L803.2,419.4 L804.0,419.4 L804.8,419.2 L805.6,418.8 L806.4,418.4 L807.2,418.4 L808.0,418.7 L808.8,418.7 L809.6,418.7 L810.4,418.7 L811.2,418.5 L812.0,418.8 L812.8,418.9 L813.6,418.8 L814.4,418.9 L815.2,418.7 L816.0,418.7 L816.8,418.8 L817.6,418.9 L818.4,419.7 L819.2,419.1 L820.0,418.9 L820.8,419.1 L821.6,419.3 L822.4,419.8 L823.2,419.6 L824.0,419.5 L824.8,419.1 L825.6,418.8 L826.4,418.1 L827.2,418.7 L828.0,418.6 L828.8,419.5 L829.6,419.4 L830.4,419.9 L831.2,420.6 L832.0,420.9 L832.8,421.3 L833.6,422.0 L834.4,422.1 L835.2,422.1 L836.0,422.3 L836.8,421.7 L837.6,422.0 L838.4,421.9 L839.2,422.4 L840.0,422.2 L840.8,422.0 L841.6,422.1 L842.4,420.7 L843.2,420.6 L844.0,420.4 L844.8,420.4 L845.6,420.1 L846.4,420.5 L847.2,420.2 L848.0,420.1 L848.8,419.5 L849.6,420.0 L850.4,419.1 L851.2,419.2 L852.0,418.7 L852.8,419.6 L853.6,420.3 L854.4,420.9 L855.2,419.9 L856.0,419.6 L856.8,418.7 L857.6,418.8 L858.4,418.7 L859.2,419.1 L860.0,419.5 L860.8,419.7 L861.6,419.2 L862.4,418.5 L863.2,417.9 L864.0,418.6 L864.8,418.6 L865.6,418.8 L866.4,419.2 L867.2,419.3 L868.0,420.0 L868.8,419.8 L869.6,419.9 L870.4,420.0 L871.2,419.6 L872.0,420.1 L872.8,419.4 L873.6,419.9 L874.4,420.1 L875.2,420.7 L876.0,420.8 L876.8,421.6 L877.6,422.1 L878.4,421.7 L879.2,421.0 L880.0,421.0 L880.8,420.2 L881.6,420.0 L882.4,420.6 L883.2,420.5 L884.0,421.4 L884.8,421.3 L885.6,420.6 L886.4,420.7 L887.2,420.8 L888.0,421.6 L888.8,422.3 L889.6,423.4 L890.4,423.6 L891.2,424.4 L892.0,423.9 L892.8,423.4 L893.6,422.9 L894.4,423.5 L895.2,424.4 L896.0,423.6 L896.8,423.4 L897.6,422.1 L898.4,422.3 L899.2,422.4 L900.0,423.0 L900.8,423.1 L901.6,424.4 L902.4,425.3 L903.2,425.4 L904.0,425.1 L904.8,424.8 L905.6,424.3 L906.4,424.5 L907.2,425.2 L908.0,426.4 L908.8,426.6 L909.6,426.6 L910.4,426.1 L911.2,425.5 L912.0,425.1 L912.8,424.0 L913.6,423.7 L914.4,424.0 L915.2,424.8 L916.0,425.9 L916.8,426.1" stroke="#37AD6B"/>
<path d="M57.6,361.4 L58.4,361.4 L59.2,362.4 L60.0,361.9 L60.8,361.9 L61.6,361.9 L62.4,360.7 L63.2,360.5 L64.0,360.7 L64.8,361.0 L65.6,361.6 L66.4,362.6 L67.2,363.3 L68.0,364.1 L68.8,363.6 L69.6,363.5 L70.4,363.4 L71.2,363.1 L72.0,362.2 L72.8,363.1 L73.6,363.0 L74.4,363.0 L75.2,362.8 L76.0,362.9 L76.8,363.4 L77.6,363.6 L78.4,363.5 L79.2,363.2 L80.0,362.9 L80.8,362.6 L81.6,362.7 L82.4,362.5 L83.2,363.2 L84.0,363.7 L84.8,364.1 L85.6,364.6 L86.4,365.0 L87.2,365.9 L88.0,366.2 L88.8,367.4 L89.6,367.7 L90.4,368.1 L91.2,368.2 L92.0,367.7 L92.8,366.8 L93.6,366.3 L94.4,365.8 L95.2,365.7 L96.0,365.9 L96.8,366.6 L97.6,367.6 L98.4,367.7 L99.2,367.3 L100.0,367.1 L100.8,366.7 L101.6,366.5 L102.4,365.7 L103.2,366.2 L104.0,365.9 L104.8,366.0 L105.6,366.0 L106.4,366.0 L107.2,365.0 L108.0,364.0 L108.8,363.6 L109.6,362.8 L110.4,362.5 L111.2,362.0 L112.0,361.5 L112.8,363.0 L113.6,363.2 L114.4,365.1 L115.2,365.9 L116.0,365.9 L116.8,366.4 L117.6,367.3 L118.4,368.9 L119.2,369.4 L120.0,369.6 L120.8,369.5 L121.6,369.6 L122.4,368.8 L123.2,368.8 L124.0,368.8 L124.8,368.7 L125.6,368.5 L126.4,367.8 L127.2,368.0 L128.0,368.3 L128.8,368.7 L129.6,369.2 L130.4,368.6 L131.2,368.4 L132.0,368.1 L132.8,368.1 L133.6,368.3 L134.4,367.6 L135.2,367.4 L136.0,367.8 L136.8,368.3 L137.6,368.9 L138.4,369.1 L139.2,369.0 L140.0,370.0 L140.8,370.5 L141.6,371.1 L142.4,370.8 L143.2,371.4 L144.0,370.1 L144.8,370.2 L145.6,369.7 L146.4,369.1 L147.2,368.9 L148.0,368.2 L148.8,367.2 L149.6,367.0 L150.4,367.0 L151.2,367.2 L152.0,366.2 L152.8,366.7 L153.6,367.4 L154.4,367.8 L155.2,368.2 L156.0,368.4 L156.8,368.5 L157.6,368.6 L158.4,368.4 L159.2,367.6 L160.0,367.4 L160.8,367.8 L161.6,367.7 L162.4,367.5 L163.2,367.3 L164.0,366.8 L164.8,366.8 L165.6,366.9 L166.4,367.3 L167.2,367.4 L168.0,367.9 L168.8,368.3 L169.6,368.4 L170.4,368.1 L171.2,367.7 L172.0,366.8 L172.8,366.3 L173.6,366.8 L174.4,366.7 L175.2,367.0 L176.0,367.1 L176.8,367.4 L177.6,368.5 L178.4,368.7 L179.2,368.3 L180.0,368.2 L180.8,367.1 L181.6,365.9 L182.4,365.4 L183.2,364.4 L184.0,364.3 L184.8,365.1 L185.6,365.4 L186.4,365.9 L187.2,365.5 L188.0,365.3 L188.8,365.2 L189.6,366.0 L190.4,366.4 L191.2,367.1 L192.0,367.2 L192.8,367.1 L193.6,367.6 L194.4,367.5 L195.2,368.6 L196.0,368.9 L196.8,369.4 L197.6,369.3 L198.4,368.9 L199.2,367.8 L200.0,368.5 L200.8,368.2 L201.6,369.2 L202.4,369.5 L203.2,370.3 L204.0,370.5 L204.8,369.8 L205.6,369.1 L206.4,368.4 L207.2,367.7 L208.0,367.8 L208.8,368.8 L209.6,370.2 L210.4,371.4 L211.2,371.9 L212.0,371.7 L212.8,370.9 L213.6,371.1 L214.4,370.8 L215.2,370.7 L216.0,370.6 L216.8,369.9 L217.6,369.2 L218.4,368.6 L219.2,368.9 L220.0,369.1 L220.8,369.9 L221.6,370.1 L222.4,370.5 L223.2,370.6 L224.0,370.7 L224.8,371.4 L225.6,370.5 L226.4,370.5 L227.2,370.9 L228.0,371.5 L228.8,371.3 L229.6,371.3 L230.4,371.4 L231.2,372.6 L232.0,372.8 L232.8,373.1 L233.6,373.3 L234.4,373.0 L235.2,373.3 L236.0,374.2 L236.8,374.4 L237.6,375.1 L238.4,375.6 L239.2,376.1 L240.0,376.7 L240.8,376.8 L241.6,376.7 L242.4,376.6 L243.2,376.6 L244.0,376.6 L244.8,376.3 L245.6,376.5 L246.4,376.3 L247.2,377.0 L248.0,376.3 L248.8,376.1 L249.6,376.2 L250.4,376.2 L251.2,376.2 L252.0,376.1 L252.8,376.3 L253.6,376.3 L254.4,376.0 L255.2,376.5 L256.0,376.5 L256.8,376.7 L257.6,376.2 L258.4,375.9 L259.2,375.0 L260.0,374.3 L260.8,373.6 L261.6,372.7 L262.4,372.0 L263.2,372.3 L264.0,371.9 L264.8,372.4 L265.6,372.8 L266.4,372.4 L267.2,372.1 L268.0,370.9 L268.8,370.0 L269.6,369.5 L270.4,369.0 L271.2,369.0 L272.0,369.1 L272.8,369.8 L273.6,370.5 L274.4,371.0 L275.2,370.8 L276.0,371.3 L276.8,372.2 L277.6,371.9 L278.4,372.8 L279.2,372.6 L280.0,372.8 L280.8,372.2 L281.6,372.8 L282.4,373.1 L283.2,374.7 L284.0,375.9 L284.8,376.1 L285.6,377.3 L286.4,377.1 L287.2,377.4 L288.0,376.5 L288.8,376.9 L289.6,375.8 L290.4,375.3 L291.2,374.9 L292.0,375.3 L292.8,376.5 L293.6,377.0 L294.4,378.2 L295.2,378.3 L296.0,378.3 L296.8,377.6 L297.6,377.3 L298.4,377.3 L299.2,376.5 L300.0,376.5 L300.8,376.6 L301.6,377.4 L302.4,377.5 L303.2,376.4 L304.0,376.0 L304.8,376.9 L305.6,376.9 L306.4,377.3 L307.2,377.6 L308.0,377.8 L308.8,377.6 L309.6,377.1 L310.4,377.3 L311.2,376.6 L312.0,376.2 L312.8,376.1 L313.6,376.2 L314.4,376.1 L315.2,376.2 L316.0,376.2 L316.8,375.1 L317.6,375.2 L318.4,374.9 L319.2,374.0 L320.0,373.0 L320.8,372.5 L321.6,372.6 L322.4,372.1 L323.2,372.0 L324.0,372.6 L324.8,371.9 L325.6,371.7 L326.4,370.7 L327.2,369.9 L328.0,369.1 L328.8,368.9 L329.6,369.2 L330.4,368.3 L331.2,368.2 L332.0,367.3 L332.8,367.2 L333.6,367.1 L334.4,366.8 L335.2,367.7 L336.0,367.6 L336.8,368.0 L337.6,367.4 L338.4,367.5 L339.2,367.4 L340.0,366.5 L340.8,365.8 L341.6,365.6 L342.4,364.8 L343.2,363.8 L344.0,362.7 L344.8,361.5 L345.6,361.1 L346.4,360.8 L347.2,360.9 L348.0,361.7 L348.8,361.6 L349.6,362.2 L350.4,361.1 L351.2,360.5 L352.0,360.1 L352.8,360.3 L353.6,360.2 L354.4,360.4 L355.2,361.2 L356.0,360.1 L356.8,360.1 L357.6,359.3 L358.4,358.6 L359.2,359.1 L360.0,358.5 L360.8,358.1 L361.6,358.1 L362.4,357.9 L363.2,357.0 L364.0,356.3 L364.8,355.7 L365.6,354.7 L366.4,354.3 L367.2,353.7 L368.0,353.1 L368.8,353.2 L369.6,353.1 L370.4,351.5 L371.2,351.6 L372.0,350.8 L372.8,350.2 L373.6,350.2 L374.4,350.2 L375.2,349.0 L376.0,348.6 L376.8,347.8 L377.6,346.4 L378.4,345.9 L379.2,344.9 L380.0,343.4 L380.8,342.3 L381.6,340.9 L382.4,340.1 L383.2,339.7 L384.0,339.9 L384.8,339.2 L385.6,338.3 L386.4,337.1 L387.2,336.3 L388.0,336.0 L388.8,336.1 L389.6,335.4 L390.4,335.3 L391.2,334.1 L392.0,333.1 L392.8,332.1 L393.6,332.3 L394.4,330.8 L395.2,330.5 L396.0,329.6 L396.8,327.6 L397.6,325.7 L398.4,324.2 L399.2,323.2 L400.0,322.6 L400.8,321.9 L401.6,320.9 L402.4,320.1 L403.2,319.2 L404.0,317.8 L404.8,317.2 L405.6,317.2 L406.4,315.8 L407.2,315.7 L408.0,314.2 L408.8,313.0 L409.6,311.3 L410.4,309.1 L411.2,307.9 L412.0,307.3 L412.8,306.6 L413.6,306.2 L414.4,305.3 L415.2,304.8 L416.0,303.9 L416.8,302.7 L417.6,301.5 L418.4,300.1 L419.2,300.5 L420.0,300.1 L420.8,299.9 L421.6,298.6 L422.4,297.1 L423.2,294.9 L424.0,292.5 L424.8,291.2 L425.6,290.6 L426.4,290.3 L427.2,290.4 L428.0,289.5 L428.8,289.2 L429.6,288.3 L430.4,288.1 L431.2,287.3 L432.0,287.4 L432.8,286.8 L433.6,286.3 L434.4,284.9 L435.2,284.7 L436.0,283.1 L436.8,282.6 L437.6,281.3 L438.4,280.0 L439.2,280.0 L440.0,278.6 L440.8,278.5 L441.6,278.4 L442.4,278.8 L443.2,279.2 L444.0,279.7 L444.8,279.5 L445.6,278.8 L446.4,277.4 L447.2,276.0 L448.0,274.7 L448.8,272.8 L449.6,272.2 L450.4,271.0 L451.2,270.6 L452.0,269.6 L452.8,269.5 L453.6,268.0 L454.4,267.8 L455.2,267.4 L456.0,266.4 L456.8,265.4 L457.6,264.4 L458.4,263.2 L459.2,262.2 L460.0,260.7 L460.8,259.4 L461.6,257.8 L462.4,257.2 L463.2,256.6 L464.0,255.5 L464.8,254.8 L465.6,254.5 L466.4,254.0 L467.2,253.1 L468.0,251.6 L468.8,251.3 L469.6,250.5 L470.4,250.2 L471.2,248.7 L472.0,248.3 L472.8,246.8 L473.6,245.8 L474.4,244.7 L475.2,243.5 L476.0,242.7 L476.8,241.3 L477.6,240.3 L478.4,240.2 L479.2,240.0 L480.0,239.8 L480.8,239.7 L481.6,238.2 L482.4,236.7 L483.2,235.2 L484.0,234.0 L484.8,233.2 L485.6,232.8 L486.4,231.9 L487.2,230.9 L488.0,230.5 L488.8,229.3 L489.6,227.6 L490.4,226.4 L491.2,224.9 L492.0,223.6 L492.8,223.6 L493.6,223.0 L494.4,222.6 L495.2,222.7 L496.0,222.3 L496.8,221.4 L497.6,220.9 L498.4,220.2 L499.2,220.1 L500.0,219.3 L500.8,218.7 L501.6,217.8 L502.4,216.8 L503.2,216.1 L504.0,214.9 L504.8,214.6 L505.6,213.0 L506.4,211.9 L507.2,209.9 L508.0,208.2 L508.8,206.2 L509.6,203.7 L510.4,201.4 L511.2,200.2 L512.0,198.0 L512.8,196.8 L513.6,195.3 L514.4,193.4 L515.2,191.8 L516.0,189.2 L516.8,186.6 L517.6,183.2 L518.4,181.1 L519.2,178.4 L520.0,175.5 L520.8,172.6 L521.6,170.2 L522.4,167.4 L523.2,165.2 L524.0,163.1 L524.8,161.1 L525.6,158.6 L526.4,157.1 L527.2,154.8 L528.0,152.1 L528.8,149.9 L529.6,146.6 L530.4,144.4 L531.2,141.6 L532.0,139.8 L532.8,137.7 L533.6,135.5 L534.4,132.9 L535.2,130.2 L536.0,127.5 L536.8,125.3 L537.6,121.8 L538.4,119.0 L539.2,117.0 L540.0,114.0 L540.8,112.1 L541.6,110.7 L542.4,109.1 L543.2,107.1 L544.0,105.5 L544.8,103.7 L545.6,101.8 L546.4,101.0 L547.2,99.2 L548.0,98.1 L548.8,96.2 L549.6,94.9 L550.4,92.9 L551.2,91.1 L552.0,89.8 L552.8,88.4 L553.6,87.1 L554.4,86.3 L555.2,86.5 L556.0,86.1 L556.8,85.2 L557.6,84.9 L558.4,84.5 L559.2,84.2 L560.0,83.1 L560.8,81.1 L561.6,80.0 L562.4,79.3 L563.2,79.3 L564.0,79.3 L564.8,79.1 L565.6,78.5 L566.4,78.1 L567.2,78.3 L568.0,78.3 L568.8,78.1 L569.6,78.6 L570.4,79.2 L571.2,79.7 L572.0,79.6 L572.8,79.7 L573.6,79.9 L574.4,80.1 L575.2,80.9 L576.0,81.0 L576.8,81.3 L577.6,80.9 L578.4,81.4 L579.2,82.3 L580.0,82.7 L580.8,84.4 L581.6,86.0 L582.4,87.7 L583.2,89.4 L584.0,90.2 L584.8,92.0 L585.6,93.4 L586.4,95.3 L587.2,97.5 L588.0,99.7 L588.8,102.5 L589.6,104.5 L590.4,108.1 L591.2,110.9 L592.0,113.3 L592.8,115.7 L593.6,118.4 L594.4,121.3 L595.2,124.1 L596.0,126.8 L596.8,129.1 L597.6,131.1 L598.4,133.2 L599.2,136.4 L600.0,138.4 L600.8,141.0 L601.6,145.5 L602.4,149.0 L603.2,152.5 L604.0,156.8 L604.8,161.2 L605.6,165.7 L606.4,170.9 L607.2,175.2 L608.0,179.6 L608.8,183.7 L609.6,188.3 L610.4,192.8 L611.2,196.6 L612.0,201.0 L612.8,204.2 L613.6,207.9 L614.4,211.4 L615.2,214.5 L616.0,217.9 L616.8,222.0 L617.6,225.9 L618.4,230.8 L619.2,234.7 L620.0,239.3 L620.8,242.9 L621.6,246.0 L622.4,248.9 L623.2,252.2 L624.0,254.9 L624.8,257.6 L625.6,260.5 L626.4,264.3 L627.2,268.7 L628.0,273.8 L628.8,278.8 L629.6,282.9 L630.4,286.1 L631.2,289.4 L632.0,292.7 L632.8,295.9 L633.6,299.6 L634.4,302.6 L635.2,305.6 L636.0,307.2 L636.8,309.0 L637.6,311.5 L638.4,314.6 L639.2,318.0 L640.0,322.0 L640.8,325.6 L641.6,328.6 L642.4,331.3 L643.2,333.2 L644.0,335.4 L644.8,336.8 L645.6,337.7 L646.4,339.2 L647.2,339.7 L648.0,340.4 L648.8,341.6 L649.6,343.0 L650.4,344.3 L651.2,345.3 L652.0,346.7 L652.8,347.3 L653.6,348.6 L654.4,350.2 L655.2,351.5 L656.0,353.6 L656.8,355.3 L657.6,356.3 L658.4,356.7 L659.2,358.1 L660.0,358.9 L660.8,359.3 L661.6,361.3 L662.4,362.8 L663.2,363.5 L664.0,364.3 L664.8,364.9 L665.6,364.8 L666.4,364.9 L667.2,365.5 L668.0,365.3 L668.8,365.4 L669.6,367.0 L670.4,367.4 L671.2,368.5 L672.0,369.8 L672.8,370.6 L673.6,371.5 L674.4,371.9 L675.2,372.5 L676.0,372.9 L676.8,372.2 L677.6,372.3 L678.4,373.1 L679.2,373.4 L680.0,374.1 L680.8,374.2 L681.6,374.4 L682.4,374.4 L683.2,374.4 L684.0,374.7 L684.8,374.1 L685.6,374.2 L686.4,374.0 L687.2,373.5 L688.0,373.5 L688.8,373.8 L689.6,373.6 L690.4,373.8 L691.2,373.5 L692.0,374.5 L692.8,374.2 L693.6,374.7 L694.4,375.5 L695.2,374.8 L696.0,375.3 L696.8,373.9 L697.6,374.3 L698.4,374.6 L699.2,374.5 L700.0,373.9 L700.8,373.3 L701.6,372.9 L702.4,372.7 L703.2,372.6 L704.0,373.1 L704.8,373.4 L705.6,374.2 L706.4,374.4 L707.2,374.8 L708.0,374.2 L708.8,374.3 L709.6,374.1 L710.4,374.1 L711.2,373.7 L712.0,373.9 L712.8,373.7 L713.6,372.5 L714.4,371.4 L715.2,371.7 L716.0,371.5 L716.8,371.4 L717.6,372.0 L718.4,371.9 L719.2,372.1 L720.0,371.5 L720.8,371.6 L721.6,371.3 L722.4,372.1 L723.2,371.7 L724.0,372.2 L724.8,371.7 L725.6,371.5 L726.4,371.4 L727.2,372.3 L728.0,371.9 L728.8,372.2 L729.6,372.3 L730.4,373.0 L731.2,372.3 L732.0,371.8 L732.8,371.9 L733.6,372.3 L734.4,371.5 L735.2,370.9 L736.0,370.3 L736.8,369.8 L737.6,369.7 L738.4,369.1 L739.2,369.4 L740.0,369.9 L740.8,370.4 L741.6,370.9 L742.4,370.2 L743.2,369.3 L744.0,368.2 L744.8,368.5 L745.6,368.7 L746.4,369.4 L747.2,369.4 L748.0,369.0 L748.8,369.0 L749.6,368.9 L750.4,368.9 L751.2,368.9 L752.0,369.5 L752.8,369.9 L753.6,369.2 L754.4,369.3 L755.2,368.2 L756.0,367.5 L756.8,367.0 L757.6,366.5 L758.4,366.3 L759.2,365.8 L760.0,364.6 L760.8,365.5 L761.6,365.7 L762.4,366.5 L763.2,366.2 L764.0,366.7 L764.8,367.2 L765.6,367.3 L766.4,367.6 L767.2,367.0 L768.0,366.9 L768.8,367.2 L769.6,366.8 L770.4,367.2 L771.2,367.2 L772.0,366.8 L772.8,366.3 L773.6,366.8 L774.4,367.5 L775.2,368.3 L776.0,368.8 L776.8,368.7 L777.6,368.2 L778.4,367.9 L779.2,367.8 L780.0,367.2 L780.8,366.7 L781.6,366.1 L782.4,366.0 L783.2,365.7 L784.0,365.6 L784.8,365.1 L785.6,364.7 L786.4,364.0 L787.2,364.0 L788.0,364.2 L788.8,364.8 L789.6,365.1 L790.4,365.1 L791.2,364.6 L792.0,364.3 L792.8,364.5 L793.6,364.3 L794.4,363.7 L795.2,363.2 L796.0,362.0 L796.8,361.4 L797.6,362.1 L798.4,362.4 L799.2,362.8 L800.0,362.5 L800.8,362.6 L801.6,362.7 L802.4,363.1 L803.2,363.7 L804.0,363.9 L804.8,364.4 L805.6,365.2 L806.4,365.2 L807.2,365.9 L808.0,366.2 L808.8,365.7 L809.6,365.3 L810.4,364.1 L811.2,364.1 L812.0,363.3 L812.8,363.7 L813.6,363.5 L814.4,363.6 L815.2,362.9 L816.0,362.6 L816.8,361.7 L817.6,362.2 L818.4,362.8 L819.2,363.6 L820.0,364.3 L820.8,364.1 L821.6,363.3 L822.4,362.6 L823.2,362.0 L824.0,362.5 L824.8,363.0 L825.6,363.7 L826.4,364.0 L827.2,363.9 L828.0,363.4 L828.8,362.9 L829.6,362.4 L830.4,361.3 L831.2,361.7 L832.0,362.6 L832.8,362.1 L833.6,362.5 L834.4,363.2 L835.2,363.6 L836.0,363.9 L836.8,363.9 L837.6,363.3 L838.4,363.4 L839.2,362.8 L840.0,363.0 L840.8,362.9 L841.6,363.5 L842.4,363.5 L843.2,364.4 L844.0,363.7 L844.8,363.4 L845.6,362.7 L846.4,362.0 L847.2,362.1 L848.0,362.3 L848.8,362.4 L849.6,362.6 L850.4,362.9 L851.2,363.1 L852.0,363.7 L852.8,364.5 L853.6,364.9 L854.4,365.2 L855.2,364.9 L856.0,364.4 L856.8,363.5 L857.6,362.7 L858.4,362.3 L859.2,362.5 L860.0,362.8 L860.8,363.3 L861.6,364.2 L862.4,364.6 L863.2,364.2 L864.0,364.9 L864.8,364.7 L865.6,364.6 L866.4,363.9 L867.2,364.4 L868.0,365.3 L868.8,365.8 L869.6,365.5 L870.4,365.7 L871.2,365.3 L872.0,364.9 L872.8,364.9 L873.6,364.6 L874.4,365.1 L875.2,364.8 L876.0,365.8 L876.8,365.6 L877.6,365.0 L878.4,364.1 L879.2,364.0 L880.0,363.9 L880.8,363.1 L881.6,363.2 L882.4,363.4 L883.2,363.6 L884.0,364.3 L884.8,365.2 L885.6,365.2 L886.4,365.1 L887.2,364.5 L888.0,363.7 L888.8,363.4 L889.6,362.9 L890.4,362.7 L891.2,362.7 L892.0,363.1 L892.8,363.0 L893.6,363.6 L894.4,362.8 L895.2,362.8 L896.0,362.5 L896.8,361.8 L897.6,362.1 L898.4,363.1 L899.2,364.0 L900.0,364.8 L900.8,365.2 L901.6,365.3 L902.4,364.8 L903.2,364.4 L904.0,363.8 L904.8,362.9 L905.6,362.4 L906.4,362.9 L907.2,363.6 L908.0,364.4 L908.8,364.4 L909.6,364.8 L910.4,364.7 L911.2,364.2 L912.0,364.1 L912.8,363.9 L913.6,363.9 L914.4,363.9 L915.2,363.6 L916.0,364.1 L916.8,364.8" stroke="#B177DE"/>
</g>
<g stroke="#7f0000" stroke-width="6.4" fill="none">
<line x1="565.2" y1="104" x2="565" y2="112"/>
<line x1="563.4" y1="138" x2="563" y2="146.5"/>
<line x1="561.2" y1="173" x2="564" y2="205"/>
<line x1="564.4" y1="220" x2="566" y2="228.5"/>
<line x1="567.3" y1="243" x2="570.4" y2="277"/>
</g>
<line x1="573.8" y1="62" x2="574.8" y2="460.5" stroke="#000" stroke-width="1.6" stroke-dasharray="11.5 11.29"/>
<line x1="452.6" y1="169.8" x2="545" y2="130.6" stroke="#000" stroke-width="3.2"/>
<polygon points="572.8,118.8 535.6,125.0 543.6,139.0" fill="#000"/>
<rect x="57.85" y="53.75" width="858.55" height="587.95" fill="none" stroke="#000" stroke-width="2.9"/>
<line x1="57.9" y1="641.7" x2="57.9" y2="630.5" stroke="#000" stroke-width="3.1"/>
<line x1="238.6" y1="641.7" x2="238.6" y2="630.5" stroke="#000" stroke-width="3.1"/>
<line x1="419.3" y1="641.7" x2="419.3" y2="630.5" stroke="#000" stroke-width="3.1"/>
<line x1="600.1" y1="641.7" x2="600.1" y2="630.5" stroke="#000" stroke-width="3.1"/>
<line x1="780.8" y1="641.7" x2="780.8" y2="630.5" stroke="#000" stroke-width="3.1"/>
<line x1="148.2" y1="641.7" x2="148.2" y2="636.1" stroke="#000" stroke-width="3.0"/>
<line x1="329.0" y1="641.7" x2="329.0" y2="636.1" stroke="#000" stroke-width="3.0"/>
<line x1="509.7" y1="641.7" x2="509.7" y2="636.1" stroke="#000" stroke-width="3.0"/>
<line x1="690.5" y1="641.7" x2="690.5" y2="636.1" stroke="#000" stroke-width="3.0"/>
<line x1="871.2" y1="641.7" x2="871.2" y2="636.1" stroke="#000" stroke-width="3.0"/>
<line x1="671.2" y1="88.2" x2="767.2" y2="88.2" stroke="#515151" stroke-width="3.9" stroke-linecap="round"/>
<line x1="671.2" y1="133.8" x2="767.2" y2="133.8" stroke="#F14040" stroke-width="3.9" stroke-linecap="round"/>
<line x1="671.2" y1="179.3" x2="767.2" y2="179.3" stroke="#CC9900" stroke-width="3.9" stroke-linecap="round"/>
<line x1="671.2" y1="224.1" x2="767.2" y2="224.1" stroke="#1A6FDF" stroke-width="3.9" stroke-linecap="round"/>
<line x1="671.2" y1="269.4" x2="767.2" y2="269.4" stroke="#37AD6B" stroke-width="3.9" stroke-linecap="round"/>
<line x1="671.2" y1="314.8" x2="767.2" y2="314.8" stroke="#B177DE" stroke-width="3.9" stroke-linecap="round"/>
<text transform="translate(775.85,101.30) scale(1.1393,1.0000)" font-family='"Liberation Serif", serif' font-size="32.06" font-weight="bold" fill="#000">EM-0</text>
<text transform="translate(775.51,146.60) scale(1.1489,1.0000)" font-family='"Liberation Serif", serif' font-size="32.06" font-weight="bold" fill="#000">-120 °<tspan dx="-1.76">C</tspan></text>
<text transform="translate(775.51,191.90) scale(1.1489,1.0000)" font-family='"Liberation Serif", serif' font-size="32.06" font-weight="bold" fill="#000">-140 °<tspan dx="-1.76">C</tspan></text>
<text transform="translate(775.51,237.00) scale(1.1489,1.0000)" font-family='"Liberation Serif", serif' font-size="32.06" font-weight="bold" fill="#000">-160 °<tspan dx="-1.76">C</tspan></text>
<text transform="translate(775.51,281.90) scale(1.1489,1.0000)" font-family='"Liberation Serif", serif' font-size="32.06" font-weight="bold" fill="#000">-180 °<tspan dx="-1.76">C</tspan></text>
<text transform="translate(775.51,327.20) scale(1.1489,1.0000)" font-family='"Liberation Serif", serif' font-size="32.06" font-weight="bold" fill="#000">-196 °<tspan dx="-1.76">C</tspan></text>
<text transform="translate(105.61,108.07) scale(1.2354,1.0000)" font-family='"Liberation Sans", sans-serif' font-size="35.40" font-weight="bold" fill="#000">(a)</text>
<text transform="translate(227.86,195.80) scale(1.1887,1.0000)" font-family='"Liberation Serif", serif' font-size="35.68" font-weight="bold" fill="#000">Peak link line</text>
<text transform="translate(26.36,683.80) scale(1.1318,1.0000)" font-family='"Liberation Serif", serif' font-size="37.73" font-weight="bold" fill="#000">400</text>
<text transform="translate(206.49,683.80) scale(1.1439,1.0000)" font-family='"Liberation Serif", serif' font-size="37.73" font-weight="bold" fill="#000">800</text>
<text transform="translate(375.49,683.80) scale(1.1632,1.0000)" font-family='"Liberation Serif", serif' font-size="37.73" font-weight="bold" fill="#000">1200</text>
<text transform="translate(556.69,683.80) scale(1.1646,1.0000)" font-family='"Liberation Serif", serif' font-size="37.73" font-weight="bold" fill="#000">1600</text>
<text transform="translate(738.06,683.80) scale(1.1500,1.0000)" font-family='"Liberation Serif", serif' font-size="37.73" font-weight="bold" fill="#000">2000</text>
<text transform="translate(256.42,734.40) scale(1.1705,1.0000)" font-family='"Liberation Serif", serif' font-size="38.93" font-weight="bold" fill="#000">Raman shift (cm<tspan dx="1.75" font-size="25.11" font-weight="normal" dy="-16.35">—</tspan><tspan dx="0.39" font-size="24.53">1</tspan><tspan dy="16.35">)</tspan></text>
<text transform="translate(39.50,518.76) rotate(-90) scale(1.0086,0.9950)" font-family='"Liberation Serif", serif' font-size="38.50" font-weight="bold" fill="#000">Intensity (arb. units)</text>
<path d="M1218.2,648.2 L1218.2,19.8 L2067.2,19.8" fill="none" stroke="#000" stroke-width="2.8" stroke-linejoin="miter"/>
<line x1="1216.8" y1="648.2" x2="2067.2" y2="648.2" stroke="#000" stroke-width="2.8"/>
<line x1="1218.2" y1="648.2" x2="1231.1000000000001" y2="648.2" stroke="#000" stroke-width="3.0"/>
<line x1="1218.2" y1="539.7" x2="1231.1000000000001" y2="539.7" stroke="#000" stroke-width="3.0"/>
<line x1="1218.2" y1="431.2" x2="1231.1000000000001" y2="431.2" stroke="#000" stroke-width="3.0"/>
<line x1="1218.2" y1="322.8" x2="1231.1000000000001" y2="322.8" stroke="#000" stroke-width="3.0"/>
<line x1="1218.2" y1="214.3" x2="1231.1000000000001" y2="214.3" stroke="#000" stroke-width="3.0"/>
<line x1="1218.2" y1="105.8" x2="1231.1000000000001" y2="105.8" stroke="#000" stroke-width="3.0"/>
<line x1="1218.2" y1="594.0" x2="1225.2" y2="594.0" stroke="#000" stroke-width="2.9"/>
<line x1="1218.2" y1="485.5" x2="1225.2" y2="485.5" stroke="#000" stroke-width="2.9"/>
<line x1="1218.2" y1="377.0" x2="1225.2" y2="377.0" stroke="#000" stroke-width="2.9"/>
<line x1="1218.2" y1="268.5" x2="1225.2" y2="268.5" stroke="#000" stroke-width="2.9"/>
<line x1="1218.2" y1="160.0" x2="1225.2" y2="160.0" stroke="#000" stroke-width="2.9"/>
<line x1="1218.2" y1="51.6" x2="1225.2" y2="51.6" stroke="#000" stroke-width="2.9"/>
<line x1="1339.0" y1="648.2" x2="1339.0" y2="635.7" stroke="#000" stroke-width="3.0"/>
<line x1="1460.5" y1="648.2" x2="1460.5" y2="635.7" stroke="#000" stroke-width="3.0"/>
<line x1="1582.0" y1="648.2" x2="1582.0" y2="635.7" stroke="#000" stroke-width="3.0"/>
<line x1="1703.3" y1="648.2" x2="1703.3" y2="635.7" stroke="#000" stroke-width="3.0"/>
<line x1="1824.8" y1="648.2" x2="1824.8" y2="635.7" stroke="#000" stroke-width="3.0"/>
<line x1="1946.1" y1="648.2" x2="1946.1" y2="635.7" stroke="#000" stroke-width="3.0"/>
<line x1="2067.2" y1="18.3" x2="2067.2" y2="649.7" stroke="#f00" stroke-width="3.0"/>
<line x1="2067.2" y1="648.2" x2="2054.0" y2="648.2" stroke="#f00" stroke-width="3.0"/>
<line x1="2067.2" y1="486.9" x2="2054.0" y2="486.9" stroke="#f00" stroke-width="3.0"/>
<line x1="2067.2" y1="325.6" x2="2054.0" y2="325.6" stroke="#f00" stroke-width="3.0"/>
<line x1="2067.2" y1="164.3" x2="2054.0" y2="164.3" stroke="#f00" stroke-width="3.0"/>
<line x1="2067.2" y1="567.6" x2="2060.2" y2="567.6" stroke="#f00" stroke-width="2.9"/>
<line x1="2067.2" y1="406.2" x2="2060.2" y2="406.2" stroke="#f00" stroke-width="2.9"/>
<line x1="2067.2" y1="244.9" x2="2060.2" y2="244.9" stroke="#f00" stroke-width="2.9"/>
<line x1="2067.2" y1="83.6" x2="2060.2" y2="83.6" stroke="#f00" stroke-width="2.9"/>
<line x1="1355.3" y1="339.0" x2="1444.2" y2="342.6" stroke="#000" stroke-width="3.9" stroke-linecap="round"/>
<line x1="1474.1" y1="352.4" x2="1568.4" y2="415.4" stroke="#000" stroke-width="3.9" stroke-linecap="round"/>
<line x1="1595.8" y1="415.8" x2="1689.5" y2="356.1" stroke="#000" stroke-width="3.9" stroke-linecap="round"/>
<line x1="1719.1" y1="343.5" x2="1809.0" y2="321.2" stroke="#000" stroke-width="3.9" stroke-linecap="round"/>
<line x1="1838.4" y1="308.3" x2="1932.5" y2="245.4" stroke="#000" stroke-width="3.9" stroke-linecap="round"/>
<path d="M1339.0,313.6 L1339.0,362.1 M1332.7,313.6 L1345.3,313.6 M1332.7,362.1 L1345.3,362.1" stroke="#000" stroke-width="2.9" fill="none" stroke-linecap="round"/>
<rect x="1329.1" y="329.7" width="19.8" height="17.2" fill="#000"/>
<path d="M1460.5,317.9 L1460.5,368.0 M1454.2,317.9 L1466.8,317.9 M1454.2,368.0 L1466.8,368.0" stroke="#000" stroke-width="2.9" fill="none" stroke-linecap="round"/>
<rect x="1450.6" y="334.7" width="19.8" height="17.2" fill="#000"/>
<path d="M1582.0,392.8 L1582.0,454.9 M1575.7,392.8 L1588.3,392.8 M1575.7,454.9 L1588.3,454.9" stroke="#000" stroke-width="2.9" fill="none" stroke-linecap="round"/>
<rect x="1572.1" y="415.9" width="19.8" height="17.2" fill="#000"/>
<path d="M1703.3,315.1 L1703.3,378.7 M1697.0,315.1 L1709.6,315.1 M1697.0,378.7 L1709.6,378.7" stroke="#000" stroke-width="2.9" fill="none" stroke-linecap="round"/>
<rect x="1693.4" y="338.8" width="19.8" height="17.2" fill="#000"/>
<path d="M1824.8,293.6 L1824.8,340.6 M1818.5,293.6 L1831.1,293.6 M1818.5,340.6 L1831.1,340.6" stroke="#000" stroke-width="2.9" fill="none" stroke-linecap="round"/>
<rect x="1814.9" y="308.7" width="19.8" height="17.2" fill="#000"/>
<path d="M1946.1,208.1 L1946.1,264.5 M1939.8,208.1 L1952.3999999999999,208.1 M1939.8,264.5 L1952.3999999999999,264.5" stroke="#000" stroke-width="2.9" fill="none" stroke-linecap="round"/>
<rect x="1936.2" y="227.8" width="19.8" height="17.2" fill="#000"/>
<line x1="1355.3" y1="280.4" x2="1444.2" y2="278.7" stroke="#f00" stroke-width="3.9" stroke-linecap="round"/>
<line x1="1474.3" y1="287.0" x2="1568.2" y2="345.4" stroke="#f00" stroke-width="3.9" stroke-linecap="round"/>
<line x1="1596.0" y1="345.7" x2="1689.3" y2="290.5" stroke="#f00" stroke-width="3.9" stroke-linecap="round"/>
<line x1="1719.6" y1="282.3" x2="1808.5" y2="282.7" stroke="#f00" stroke-width="3.9" stroke-linecap="round"/>
<line x1="1841.0" y1="280.7" x2="1929.9" y2="269.3" stroke="#f00" stroke-width="3.9" stroke-linecap="round"/>
<path d="M1339.0,264.2 L1339.0,297.4 M1332.7,264.2 L1345.3,264.2 M1332.7,297.4 L1345.3,297.4" stroke="#f00" stroke-width="2.9" fill="none" stroke-linecap="round"/>
<ellipse cx="1339.0" cy="280.7" rx="10.9" ry="9.8" fill="#f00"/>
<path d="M1460.5,253.1 L1460.5,302.6 M1454.2,253.1 L1466.8,253.1 M1454.2,302.6 L1466.8,302.6" stroke="#f00" stroke-width="2.9" fill="none" stroke-linecap="round"/>
<ellipse cx="1460.5" cy="278.4" rx="10.9" ry="9.8" fill="#f00"/>
<path d="M1582.0,325.2 L1582.0,383.1 M1575.7,325.2 L1588.3,325.2 M1575.7,383.1 L1588.3,383.1" stroke="#f00" stroke-width="2.9" fill="none" stroke-linecap="round"/>
<ellipse cx="1582.0" cy="354.0" rx="10.9" ry="9.8" fill="#f00"/>
<path d="M1703.3,254.2 L1703.3,310.2 M1697.0,254.2 L1709.6,254.2 M1697.0,310.2 L1709.6,310.2" stroke="#f00" stroke-width="2.9" fill="none" stroke-linecap="round"/>
<ellipse cx="1703.3" cy="282.2" rx="10.9" ry="9.8" fill="#f00"/>
<path d="M1824.8,264.3 L1824.8,301.7 M1818.5,264.3 L1831.1,264.3 M1818.5,301.7 L1831.1,301.7" stroke="#f00" stroke-width="2.9" fill="none" stroke-linecap="round"/>
<ellipse cx="1824.8" cy="282.8" rx="10.9" ry="9.8" fill="#f00"/>
<path d="M1946.1,241.9 L1946.1,291.8 M1939.8,241.9 L1952.3999999999999,241.9 M1939.8,291.8 L1952.3999999999999,291.8" stroke="#f00" stroke-width="2.9" fill="none" stroke-linecap="round"/>
<ellipse cx="1946.1" cy="267.2" rx="10.9" ry="9.8" fill="#f00"/>
<line x1="1611.5" y1="80.6" x2="1637.4" y2="80.6" stroke="#000" stroke-width="3.8" stroke-linecap="round"/>
<line x1="1666.3" y1="80.6" x2="1692.0" y2="80.6" stroke="#000" stroke-width="3.8" stroke-linecap="round"/>
<line x1="1611.5" y1="138.1" x2="1637.4" y2="138.1" stroke="#f00" stroke-width="3.8" stroke-linecap="round"/>
<line x1="1666.3" y1="138.1" x2="1692.0" y2="138.1" stroke="#f00" stroke-width="3.8" stroke-linecap="round"/>
<rect x="1642.5" y="72.4" width="19.5" height="17.4" fill="#000"/>
<ellipse cx="1651.4" cy="138.1" rx="10.8" ry="10.0" fill="#f00"/>
<text transform="translate(1704.24,92.20) scale(1.0845,1.0000)" font-family='"Liberation Serif", serif' font-size="45.00" font-weight="bold" fill="#000">sp<tspan font-size="30.15" dy="-15.84">2</tspan><tspan dy="15.84">/sp</tspan><tspan font-size="30.15" dy="-15.84">3</tspan><tspan dy="15.84"> ratio</tspan></text>
<text transform="translate(1711.72,149.20) scale(1.0932,1.0000)" font-family='"Liberation Serif", serif' font-size="44.00" font-weight="bold" fill="#000">I<tspan dx="0.44" font-size="33.00" dy="10.78">D</tspan><tspan dx="-1.32" dy="-10.78">/I</tspan><tspan dx="0.44" font-size="33.00" dy="10.78">G</tspan><tspan dy="-10.78"> ratio</tspan></text>
<text transform="translate(1259.86,85.94) scale(1.1545,1.0000)" font-family='"Liberation Serif", serif' font-size="41.21" font-weight="bold" fill="#000">(b)</text>
<text transform="translate(1118.15,661.85) scale(1.0743,1.0000)" font-family='"Liberation Serif", serif' font-size="45.48" font-weight="bold" fill="#000">0.40</text>
<text transform="translate(1118.15,553.60) scale(1.0711,1.0000)" font-family='"Liberation Serif", serif' font-size="45.48" font-weight="bold" fill="#000">0.45</text>
<text transform="translate(1118.15,445.35) scale(1.0743,1.0000)" font-family='"Liberation Serif", serif' font-size="45.48" font-weight="bold" fill="#000">0.50</text>
<text transform="translate(1118.15,337.10) scale(1.0711,1.0000)" font-family='"Liberation Serif", serif' font-size="45.48" font-weight="bold" fill="#000">0.55</text>
<text transform="translate(1118.15,228.85) scale(1.0743,1.0000)" font-family='"Liberation Serif", serif' font-size="45.48" font-weight="bold" fill="#000">0.60</text>
<text transform="translate(1118.15,120.60) scale(1.0711,1.0000)" font-family='"Liberation Serif", serif' font-size="45.48" font-weight="bold" fill="#000">0.65</text>
<text transform="translate(2081.53,662.75) scale(1.0853,1.0000)" font-family='"Liberation Serif", serif' font-size="45.48" font-weight="bold" fill="#f00">0.3</text>
<text transform="translate(2081.55,501.45) scale(1.0716,1.0000)" font-family='"Liberation Serif", serif' font-size="45.48" font-weight="bold" fill="#f00">0.4</text>
<text transform="translate(2081.53,340.15) scale(1.0853,1.0000)" font-family='"Liberation Serif", serif' font-size="45.48" font-weight="bold" fill="#f00">0.5</text>
<text transform="translate(2081.53,178.85) scale(1.0807,1.0000)" font-family='"Liberation Serif", serif' font-size="45.48" font-weight="bold" fill="#f00">0.6</text>
<text transform="translate(1281.07,697.00) scale(1.1254,1.0000)" font-family='"Liberation Serif", serif' font-size="43.05" font-weight="bold" fill="#000">EM-0</text>
<text transform="translate(1416.50,697.00) scale(1.1284,1.0000)" font-family='"Liberation Serif", serif' font-size="43.05" font-weight="bold" fill="#000">-120</text>
<text transform="translate(1538.31,697.00) scale(1.1204,1.0000)" font-family='"Liberation Serif", serif' font-size="43.05" font-weight="bold" fill="#000">-140</text>
<text transform="translate(1658.98,697.00) scale(1.1389,1.0000)" font-family='"Liberation Serif", serif' font-size="43.05" font-weight="bold" fill="#000">-160</text>
<text transform="translate(1781.10,697.00) scale(1.1270,1.0000)" font-family='"Liberation Serif", serif' font-size="43.05" font-weight="bold" fill="#000">-180</text>
<text transform="translate(1902.31,697.00) scale(1.1220,1.0000)" font-family='"Liberation Serif", serif' font-size="43.05" font-weight="bold" fill="#000">-196</text>
<text transform="translate(1305.43,750.10) scale(1.0912,1.0000)" font-family='"Liberation Serif", serif' font-size="47.16" font-weight="bold" fill="#000">Cryogenic temperature (<tspan font-size="33.49" dy="-19.10">o</tspan><tspan dy="19.10">C)</tspan></text>
<text transform="translate(1100.80,456.45) rotate(-90) scale(1.0707,1.0400)" font-family='"Liberation Serif", serif' font-size="45.00" font-weight="bold" fill="#000">sp<tspan font-size="31.05" dy="-21.82">2</tspan><tspan dy="21.82">/sp</tspan><tspan font-size="31.05" dy="-21.82">3</tspan><tspan dy="21.82"> ratio</tspan></text>
<text transform="translate(2193.00,426.33) rotate(-90) scale(1.0093,1.0000)" font-family='"Liberation Serif", serif' font-size="49.00" font-weight="bold" fill="#f00">I<tspan dx="-2.21" font-size="30.87">D</tspan><tspan dx="-0.49">/I</tspan><tspan dx="-2.21" font-size="30.87">G</tspan> ratio</text>
</svg>
</body></html>
